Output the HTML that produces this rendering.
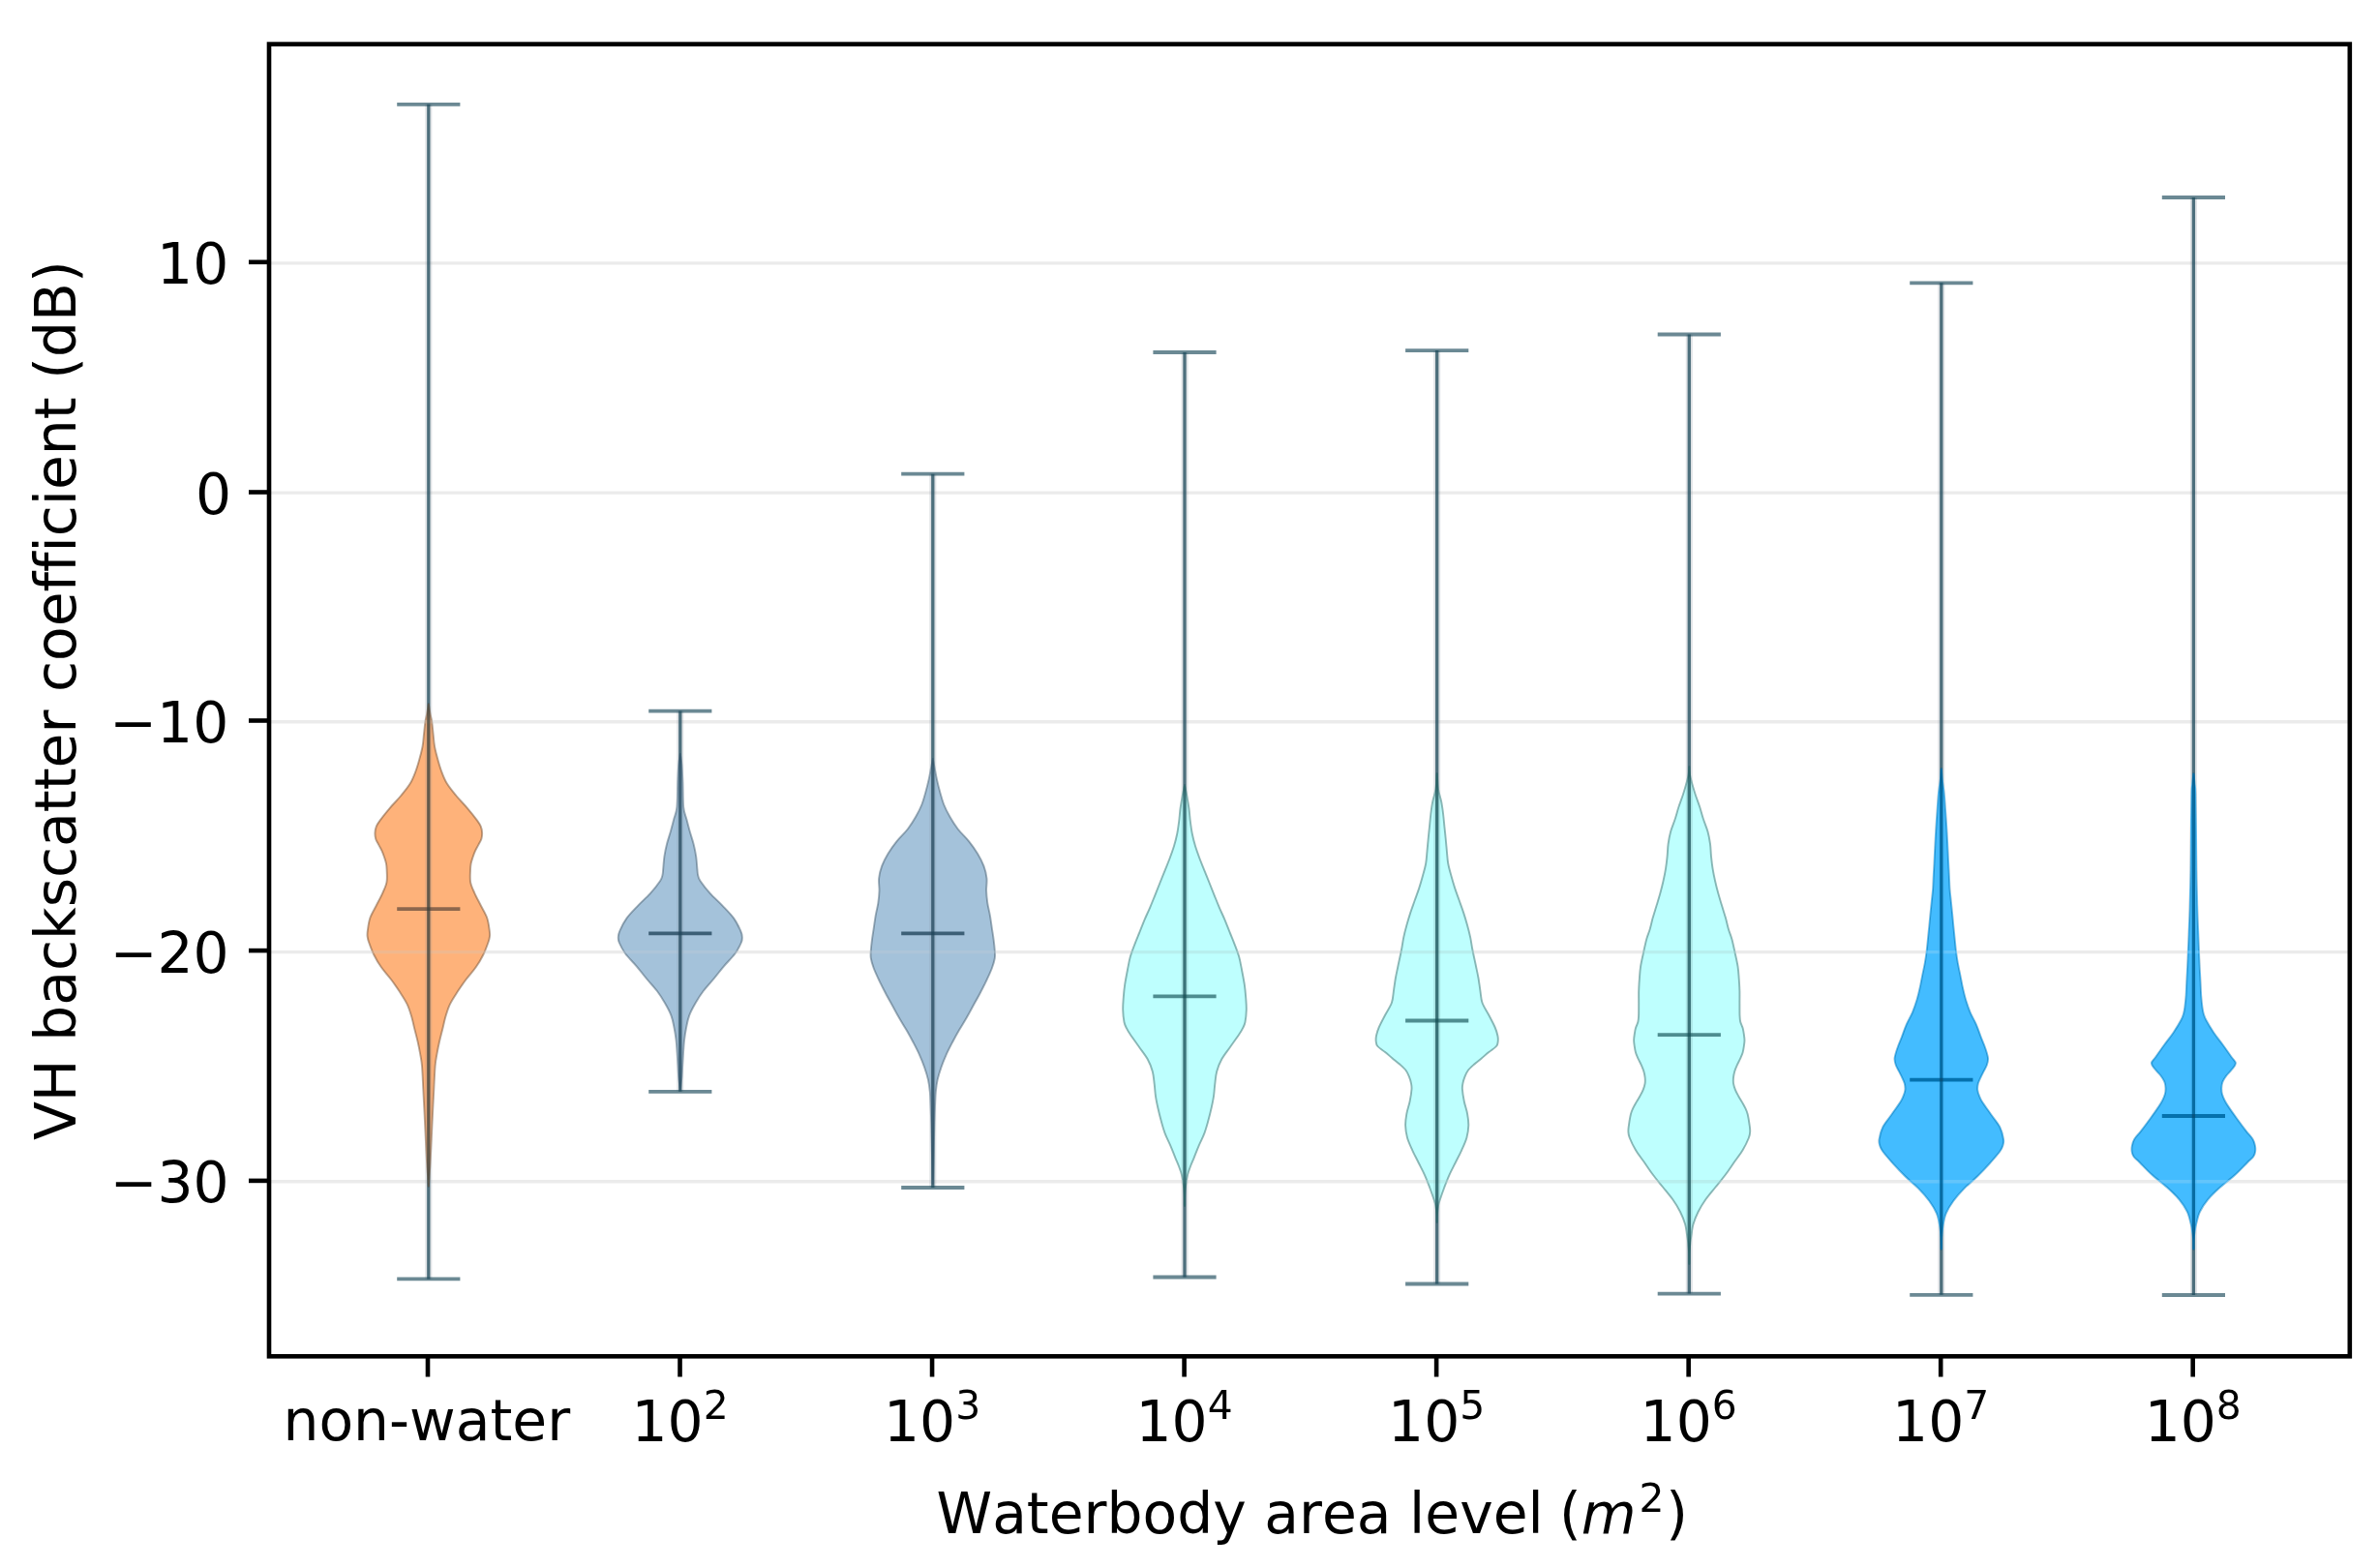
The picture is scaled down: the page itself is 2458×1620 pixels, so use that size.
<!DOCTYPE html>
<html><head><meta charset="utf-8"><title>VH backscatter violin plot</title>
<style>
html,body{margin:0;padding:0;background:#fff;overflow:hidden}
svg{display:block}
text{font-family:"DejaVu Sans","Liberation Sans",sans-serif;fill:#000;font-kerning:none;font-variant-ligatures:none;font-feature-settings:"liga" 0,"kern" 0}
</style></head><body>
<svg width="2458" height="1620" viewBox="0 0 2458 1620">
<rect width="2458" height="1620" fill="#fff"/>

<g stroke="rgba(70,75,75,0.45)" stroke-width="1.9" stroke-linejoin="round">
<path d="M442.80,727.00 L442.95,728.00 C443.19,729.50 443.86,734.08 444.40,737.00 C444.94,739.92 445.67,741.95 446.20,745.50 C446.73,749.05 447.13,754.05 447.60,758.30 C448.07,762.55 448.25,766.75 449.00,771.00 C449.75,775.25 450.93,779.55 452.10,783.80 C453.27,788.05 454.40,792.25 456.00,796.50 C457.60,800.75 459.15,805.05 461.70,809.30 C464.25,813.55 467.78,817.75 471.30,822.00 C474.82,826.25 479.18,830.53 482.80,834.80 C486.42,839.07 490.67,844.42 493.00,847.60 C495.33,850.78 495.95,851.78 496.80,853.90 C497.65,856.02 498.00,858.17 498.10,860.30 C498.20,862.43 498.05,864.57 497.40,866.70 C496.75,868.83 495.28,870.98 494.20,873.10 C493.12,875.22 491.85,877.28 490.90,879.40 C489.95,881.52 489.22,883.67 488.50,885.80 C487.78,887.93 487.02,890.07 486.60,892.20 C486.18,894.33 486.08,895.42 486.00,898.60 C485.92,901.78 485.37,907.27 486.10,911.30 C486.83,915.33 488.62,918.77 490.40,922.80 C492.18,926.83 494.67,931.25 496.80,935.50 C498.93,939.75 501.72,944.05 503.20,948.30 C504.68,952.55 505.23,957.82 505.70,961.00 C506.17,964.18 506.22,965.27 506.00,967.40 C505.78,969.53 505.52,970.62 504.40,973.80 C503.28,976.98 501.42,982.25 499.30,986.50 C497.18,990.75 494.67,995.05 491.70,999.30 C488.73,1003.55 484.68,1007.75 481.50,1012.00 C478.32,1016.25 475.37,1020.53 472.60,1024.80 C469.83,1029.07 466.93,1033.35 464.90,1037.60 C462.87,1041.85 461.67,1046.05 460.40,1050.30 C459.13,1054.55 458.35,1058.85 457.30,1063.10 C456.25,1067.35 455.07,1071.55 454.10,1075.80 C453.13,1080.05 452.25,1084.35 451.50,1088.60 C450.75,1092.85 450.13,1095.15 449.60,1101.30 C449.07,1107.45 448.73,1117.22 448.30,1125.50 C447.87,1133.78 447.42,1142.50 447.00,1151.00 C446.58,1159.50 446.22,1168.00 445.80,1176.50 C445.38,1185.00 444.87,1195.58 444.50,1202.00 C444.13,1208.42 443.86,1211.17 443.60,1215.00 C443.34,1218.83 443.06,1223.33 442.95,1225.00 L442.80,1226.00 L442.65,1225.00 C442.54,1223.33 442.26,1218.83 442.00,1215.00 C441.74,1211.17 441.47,1208.42 441.10,1202.00 C440.73,1195.58 440.22,1185.00 439.80,1176.50 C439.38,1168.00 439.02,1159.50 438.60,1151.00 C438.18,1142.50 437.73,1133.78 437.30,1125.50 C436.87,1117.22 436.53,1107.45 436.00,1101.30 C435.47,1095.15 434.85,1092.85 434.10,1088.60 C433.35,1084.35 432.47,1080.05 431.50,1075.80 C430.53,1071.55 429.35,1067.35 428.30,1063.10 C427.25,1058.85 426.47,1054.55 425.20,1050.30 C423.93,1046.05 422.73,1041.85 420.70,1037.60 C418.67,1033.35 415.77,1029.07 413.00,1024.80 C410.23,1020.53 407.28,1016.25 404.10,1012.00 C400.92,1007.75 396.87,1003.55 393.90,999.30 C390.93,995.05 388.42,990.75 386.30,986.50 C384.18,982.25 382.32,976.98 381.20,973.80 C380.08,970.62 379.82,969.53 379.60,967.40 C379.38,965.27 379.43,964.18 379.90,961.00 C380.37,957.82 380.92,952.55 382.40,948.30 C383.88,944.05 386.67,939.75 388.80,935.50 C390.93,931.25 393.42,926.83 395.20,922.80 C396.98,918.77 398.77,915.33 399.50,911.30 C400.23,907.27 399.68,901.78 399.60,898.60 C399.52,895.42 399.42,894.33 399.00,892.20 C398.58,890.07 397.82,887.93 397.10,885.80 C396.38,883.67 395.65,881.52 394.70,879.40 C393.75,877.28 392.48,875.22 391.40,873.10 C390.32,870.98 388.85,868.83 388.20,866.70 C387.55,864.57 387.40,862.43 387.50,860.30 C387.60,858.17 387.95,856.02 388.80,853.90 C389.65,851.78 390.27,850.78 392.60,847.60 C394.93,844.42 399.18,839.07 402.80,834.80 C406.42,830.53 410.78,826.25 414.30,822.00 C417.82,817.75 421.35,813.55 423.90,809.30 C426.45,805.05 428.00,800.75 429.60,796.50 C431.20,792.25 432.33,788.05 433.50,783.80 C434.67,779.55 435.85,775.25 436.60,771.00 C437.35,766.75 437.53,762.55 438.00,758.30 C438.47,754.05 438.87,749.05 439.40,745.50 C439.93,741.95 440.66,739.92 441.20,737.00 C441.74,734.08 442.41,729.50 442.65,728.00 Z" fill="#FEB27A"/>
<path d="M702.80,779.00 L702.95,780.00 C703.19,781.67 703.99,785.28 704.40,790.00 C704.81,794.72 705.10,801.00 705.40,808.30 C705.70,815.60 705.53,827.43 706.20,833.80 C706.87,840.17 708.30,842.25 709.40,846.50 C710.50,850.75 711.60,855.05 712.80,859.30 C714.00,863.55 715.53,867.75 716.60,872.00 C717.67,876.25 718.57,880.53 719.20,884.80 C719.83,889.07 720.08,894.42 720.40,897.60 C720.72,900.78 720.57,901.78 721.10,903.90 C721.63,906.02 721.48,907.10 723.60,910.30 C725.72,913.50 729.97,918.85 733.80,923.10 C737.63,927.35 742.55,931.55 746.60,935.80 C750.65,940.05 755.02,944.35 758.10,948.60 C761.18,952.85 763.65,958.07 765.10,961.30 C766.55,964.53 766.68,965.88 766.80,968.00 C766.92,970.12 767.05,971.08 765.80,974.00 C764.55,976.92 762.28,981.45 759.30,985.50 C756.32,989.55 751.50,994.05 747.90,998.30 C744.30,1002.55 741.22,1006.75 737.70,1011.00 C734.18,1015.25 730.00,1019.55 726.80,1023.80 C723.60,1028.05 720.95,1032.25 718.50,1036.50 C716.05,1040.75 713.68,1045.05 712.10,1049.30 C710.52,1053.55 709.85,1057.75 709.00,1062.00 C708.15,1066.25 707.50,1070.53 707.00,1074.80 C706.50,1079.07 706.30,1083.35 706.00,1087.60 C705.70,1091.85 705.47,1096.07 705.20,1100.30 C704.93,1104.53 704.77,1108.88 704.40,1113.00 C704.02,1117.12 703.19,1123.00 702.95,1125.00 L702.80,1126.00 L702.65,1125.00 C702.41,1123.00 701.57,1117.12 701.20,1113.00 C700.82,1108.88 700.67,1104.53 700.40,1100.30 C700.13,1096.07 699.90,1091.85 699.60,1087.60 C699.30,1083.35 699.10,1079.07 698.60,1074.80 C698.10,1070.53 697.45,1066.25 696.60,1062.00 C695.75,1057.75 695.08,1053.55 693.50,1049.30 C691.92,1045.05 689.55,1040.75 687.10,1036.50 C684.65,1032.25 682.00,1028.05 678.80,1023.80 C675.60,1019.55 671.42,1015.25 667.90,1011.00 C664.38,1006.75 661.30,1002.55 657.70,998.30 C654.10,994.05 649.28,989.55 646.30,985.50 C643.32,981.45 641.05,976.92 639.80,974.00 C638.55,971.08 638.68,970.12 638.80,968.00 C638.92,965.88 639.05,964.53 640.50,961.30 C641.95,958.07 644.42,952.85 647.50,948.60 C650.58,944.35 654.95,940.05 659.00,935.80 C663.05,931.55 667.97,927.35 671.80,923.10 C675.63,918.85 679.88,913.50 682.00,910.30 C684.12,907.10 683.97,906.02 684.50,903.90 C685.03,901.78 684.88,900.78 685.20,897.60 C685.52,894.42 685.77,889.07 686.40,884.80 C687.03,880.53 687.93,876.25 689.00,872.00 C690.07,867.75 691.60,863.55 692.80,859.30 C694.00,855.05 695.10,850.75 696.20,846.50 C697.30,842.25 698.73,840.17 699.40,833.80 C700.07,827.43 699.90,815.60 700.20,808.30 C700.50,801.00 700.79,794.72 701.20,790.00 C701.61,785.28 702.41,781.67 702.65,780.00 Z" fill="#A4C2DA"/>
<path d="M963.80,784.00 L963.95,785.00 C964.21,786.30 964.83,789.38 965.50,792.80 C966.17,796.22 967.05,801.25 968.00,805.50 C968.95,809.75 970.02,814.05 971.20,818.30 C972.38,822.55 973.40,826.75 975.10,831.00 C976.80,835.25 978.97,839.55 981.40,843.80 C983.83,848.05 986.40,852.25 989.70,856.50 C993.00,860.75 997.80,865.05 1001.20,869.30 C1004.60,873.55 1007.55,877.75 1010.10,882.00 C1012.65,886.25 1014.93,890.53 1016.50,894.80 C1018.07,899.07 1019.07,903.35 1019.50,907.60 C1019.93,911.85 1018.97,916.05 1019.10,920.30 C1019.23,924.55 1019.67,928.85 1020.30,933.10 C1020.93,937.35 1022.15,941.55 1022.90,945.80 C1023.65,950.05 1024.17,954.35 1024.80,958.60 C1025.43,962.85 1026.20,967.40 1026.70,971.30 C1027.20,975.20 1027.62,978.88 1027.80,982.00 C1027.98,985.12 1028.30,986.92 1027.80,990.00 C1027.30,993.08 1026.25,996.62 1024.80,1000.50 C1023.35,1004.38 1021.12,1009.05 1019.10,1013.30 C1017.08,1017.55 1014.93,1021.75 1012.70,1026.00 C1010.47,1030.25 1008.03,1034.55 1005.70,1038.80 C1003.37,1043.05 1001.15,1047.25 998.70,1051.50 C996.25,1055.75 993.45,1060.05 991.00,1064.30 C988.55,1068.55 986.23,1072.75 984.00,1077.00 C981.77,1081.25 979.52,1085.53 977.60,1089.80 C975.68,1094.07 973.98,1098.35 972.50,1102.60 C971.02,1106.85 969.65,1111.05 968.70,1115.30 C967.75,1119.55 967.23,1123.85 966.80,1128.10 C966.37,1132.35 966.33,1135.48 966.10,1140.80 C965.87,1146.12 965.63,1151.80 965.40,1160.00 C965.17,1168.20 964.94,1179.67 964.70,1190.00 C964.46,1200.33 964.07,1216.67 963.95,1222.00 L963.80,1223.00 L963.65,1222.00 C963.52,1216.67 963.14,1200.33 962.90,1190.00 C962.66,1179.67 962.43,1168.20 962.20,1160.00 C961.97,1151.80 961.73,1146.12 961.50,1140.80 C961.27,1135.48 961.23,1132.35 960.80,1128.10 C960.37,1123.85 959.85,1119.55 958.90,1115.30 C957.95,1111.05 956.58,1106.85 955.10,1102.60 C953.62,1098.35 951.92,1094.07 950.00,1089.80 C948.08,1085.53 945.83,1081.25 943.60,1077.00 C941.37,1072.75 939.05,1068.55 936.60,1064.30 C934.15,1060.05 931.35,1055.75 928.90,1051.50 C926.45,1047.25 924.23,1043.05 921.90,1038.80 C919.57,1034.55 917.13,1030.25 914.90,1026.00 C912.67,1021.75 910.52,1017.55 908.50,1013.30 C906.48,1009.05 904.25,1004.38 902.80,1000.50 C901.35,996.62 900.30,993.08 899.80,990.00 C899.30,986.92 899.62,985.12 899.80,982.00 C899.98,978.88 900.40,975.20 900.90,971.30 C901.40,967.40 902.17,962.85 902.80,958.60 C903.43,954.35 903.95,950.05 904.70,945.80 C905.45,941.55 906.67,937.35 907.30,933.10 C907.93,928.85 908.37,924.55 908.50,920.30 C908.63,916.05 907.67,911.85 908.10,907.60 C908.53,903.35 909.53,899.07 911.10,894.80 C912.67,890.53 914.95,886.25 917.50,882.00 C920.05,877.75 923.00,873.55 926.40,869.30 C929.80,865.05 934.60,860.75 937.90,856.50 C941.20,852.25 943.77,848.05 946.20,843.80 C948.63,839.55 950.80,835.25 952.50,831.00 C954.20,826.75 955.22,822.55 956.40,818.30 C957.58,814.05 958.65,809.75 959.60,805.50 C960.55,801.25 961.42,796.22 962.10,792.80 C962.77,789.38 963.39,786.30 963.65,785.00 Z" fill="#A4C2DA"/>
<path d="M1224.00,811.00 L1224.15,812.00 C1224.53,813.80 1225.68,818.88 1226.40,822.80 C1227.12,826.72 1227.93,831.25 1228.50,835.50 C1229.07,839.75 1229.27,844.05 1229.80,848.30 C1230.33,852.55 1230.85,856.75 1231.70,861.00 C1232.55,865.25 1233.63,869.55 1234.90,873.80 C1236.17,878.05 1237.72,882.25 1239.30,886.50 C1240.88,890.75 1242.70,895.05 1244.40,899.30 C1246.10,903.55 1247.80,907.75 1249.50,912.00 C1251.20,916.25 1252.88,920.53 1254.60,924.80 C1256.32,929.07 1257.98,933.35 1259.80,937.60 C1261.62,941.85 1263.70,946.05 1265.50,950.30 C1267.30,954.55 1268.90,958.85 1270.60,963.10 C1272.30,967.35 1274.10,971.55 1275.70,975.80 C1277.30,980.05 1279.00,984.35 1280.20,988.60 C1281.40,992.85 1281.95,996.43 1282.90,1001.30 C1283.85,1006.17 1285.18,1012.93 1285.90,1017.80 C1286.62,1022.67 1286.88,1026.25 1287.20,1030.50 C1287.52,1034.75 1287.92,1039.05 1287.80,1043.30 C1287.68,1047.55 1287.13,1052.82 1286.50,1056.00 C1285.87,1059.18 1285.05,1060.27 1284.00,1062.40 C1282.95,1064.53 1282.33,1065.62 1280.20,1068.80 C1278.07,1071.98 1274.18,1077.25 1271.20,1081.50 C1268.22,1085.75 1264.63,1090.05 1262.30,1094.30 C1259.97,1098.55 1258.37,1102.75 1257.20,1107.00 C1256.03,1111.25 1255.83,1115.53 1255.30,1119.80 C1254.77,1124.07 1254.63,1128.35 1254.00,1132.60 C1253.37,1136.85 1252.45,1141.05 1251.50,1145.30 C1250.55,1149.55 1249.48,1153.85 1248.30,1158.10 C1247.12,1162.35 1246.00,1166.55 1244.40,1170.80 C1242.80,1175.05 1240.50,1179.35 1238.70,1183.60 C1236.90,1187.85 1235.05,1192.73 1233.60,1196.30 C1232.15,1199.87 1231.10,1202.05 1230.00,1205.00 C1228.90,1207.95 1227.80,1210.83 1227.00,1214.00 C1226.20,1217.17 1225.67,1220.50 1225.20,1224.00 C1224.73,1227.50 1224.38,1231.50 1224.20,1235.00 C1224.03,1238.50 1224.16,1243.33 1224.15,1245.00 L1224.00,1246.00 L1223.85,1245.00 C1223.84,1243.33 1223.97,1238.50 1223.80,1235.00 C1223.62,1231.50 1223.27,1227.50 1222.80,1224.00 C1222.33,1220.50 1221.80,1217.17 1221.00,1214.00 C1220.20,1210.83 1219.10,1207.95 1218.00,1205.00 C1216.90,1202.05 1215.85,1199.87 1214.40,1196.30 C1212.95,1192.73 1211.10,1187.85 1209.30,1183.60 C1207.50,1179.35 1205.20,1175.05 1203.60,1170.80 C1202.00,1166.55 1200.88,1162.35 1199.70,1158.10 C1198.52,1153.85 1197.45,1149.55 1196.50,1145.30 C1195.55,1141.05 1194.63,1136.85 1194.00,1132.60 C1193.37,1128.35 1193.23,1124.07 1192.70,1119.80 C1192.17,1115.53 1191.97,1111.25 1190.80,1107.00 C1189.63,1102.75 1188.03,1098.55 1185.70,1094.30 C1183.37,1090.05 1179.78,1085.75 1176.80,1081.50 C1173.82,1077.25 1169.93,1071.98 1167.80,1068.80 C1165.67,1065.62 1165.05,1064.53 1164.00,1062.40 C1162.95,1060.27 1162.13,1059.18 1161.50,1056.00 C1160.87,1052.82 1160.32,1047.55 1160.20,1043.30 C1160.08,1039.05 1160.48,1034.75 1160.80,1030.50 C1161.12,1026.25 1161.38,1022.67 1162.10,1017.80 C1162.82,1012.93 1164.15,1006.17 1165.10,1001.30 C1166.05,996.43 1166.60,992.85 1167.80,988.60 C1169.00,984.35 1170.70,980.05 1172.30,975.80 C1173.90,971.55 1175.70,967.35 1177.40,963.10 C1179.10,958.85 1180.70,954.55 1182.50,950.30 C1184.30,946.05 1186.38,941.85 1188.20,937.60 C1190.02,933.35 1191.68,929.07 1193.40,924.80 C1195.12,920.53 1196.80,916.25 1198.50,912.00 C1200.20,907.75 1201.90,903.55 1203.60,899.30 C1205.30,895.05 1207.12,890.75 1208.70,886.50 C1210.28,882.25 1211.83,878.05 1213.10,873.80 C1214.37,869.55 1215.45,865.25 1216.30,861.00 C1217.15,856.75 1217.67,852.55 1218.20,848.30 C1218.73,844.05 1218.93,839.75 1219.50,835.50 C1220.07,831.25 1220.88,826.72 1221.60,822.80 C1222.32,818.88 1223.47,813.80 1223.85,812.00 Z" fill="#BEFFFE"/>
<path d="M1484.70,799.00 L1484.85,800.00 C1485.04,802.58 1485.28,810.78 1486.00,815.50 C1486.72,820.22 1488.35,824.05 1489.20,828.30 C1490.05,832.55 1490.57,836.75 1491.10,841.00 C1491.63,845.25 1491.97,849.55 1492.40,853.80 C1492.83,858.05 1493.28,862.25 1493.70,866.50 C1494.12,870.75 1494.48,875.05 1494.90,879.30 C1495.32,883.55 1495.45,887.75 1496.20,892.00 C1496.95,896.25 1498.23,900.53 1499.40,904.80 C1500.57,909.07 1501.82,913.35 1503.20,917.60 C1504.58,921.85 1506.20,926.05 1507.70,930.30 C1509.20,934.55 1510.82,938.85 1512.20,943.10 C1513.58,947.35 1514.83,951.55 1516.00,955.80 C1517.17,960.05 1518.30,964.35 1519.20,968.60 C1520.10,972.85 1520.45,976.43 1521.40,981.30 C1522.35,986.17 1523.88,992.93 1524.90,997.80 C1525.92,1002.67 1526.75,1006.25 1527.50,1010.50 C1528.25,1014.75 1528.73,1019.05 1529.40,1023.30 C1530.07,1027.55 1530.02,1031.75 1531.50,1036.00 C1532.98,1040.25 1536.10,1044.55 1538.30,1048.80 C1540.50,1053.05 1543.18,1057.97 1544.70,1061.50 C1546.22,1065.03 1546.90,1067.58 1547.40,1070.00 C1547.90,1072.42 1547.93,1074.17 1547.70,1076.00 C1547.47,1077.83 1547.57,1079.17 1546.00,1081.00 C1544.43,1082.83 1540.85,1084.93 1538.30,1087.00 C1535.75,1089.07 1533.25,1091.27 1530.70,1093.40 C1528.15,1095.53 1525.35,1097.67 1523.00,1099.80 C1520.65,1101.93 1518.20,1104.07 1516.60,1106.20 C1515.00,1108.33 1514.25,1110.48 1513.40,1112.60 C1512.55,1114.72 1511.92,1116.78 1511.50,1118.90 C1511.08,1121.02 1510.68,1122.12 1510.90,1125.30 C1511.12,1128.48 1511.93,1133.75 1512.80,1138.00 C1513.67,1142.25 1515.35,1146.67 1516.10,1150.80 C1516.85,1154.93 1517.42,1158.68 1517.30,1162.80 C1517.18,1166.92 1516.58,1171.25 1515.40,1175.50 C1514.22,1179.75 1512.12,1184.05 1510.20,1188.30 C1508.28,1192.55 1506.02,1196.75 1503.90,1201.00 C1501.78,1205.25 1499.42,1209.55 1497.50,1213.80 C1495.58,1218.05 1494.00,1222.25 1492.40,1226.50 C1490.80,1230.75 1488.97,1236.10 1487.90,1239.30 C1486.83,1242.50 1486.50,1243.08 1486.00,1245.70 C1485.50,1248.32 1485.09,1252.28 1484.90,1255.00 C1484.71,1257.72 1484.86,1260.83 1484.85,1262.00 L1484.70,1263.00 L1484.55,1262.00 C1484.54,1260.83 1484.69,1257.72 1484.50,1255.00 C1484.31,1252.28 1483.90,1248.32 1483.40,1245.70 C1482.90,1243.08 1482.57,1242.50 1481.50,1239.30 C1480.43,1236.10 1478.60,1230.75 1477.00,1226.50 C1475.40,1222.25 1473.82,1218.05 1471.90,1213.80 C1469.98,1209.55 1467.62,1205.25 1465.50,1201.00 C1463.38,1196.75 1461.12,1192.55 1459.20,1188.30 C1457.28,1184.05 1455.18,1179.75 1454.00,1175.50 C1452.82,1171.25 1452.22,1166.92 1452.10,1162.80 C1451.98,1158.68 1452.55,1154.93 1453.30,1150.80 C1454.05,1146.67 1455.73,1142.25 1456.60,1138.00 C1457.47,1133.75 1458.28,1128.48 1458.50,1125.30 C1458.72,1122.12 1458.32,1121.02 1457.90,1118.90 C1457.48,1116.78 1456.85,1114.72 1456.00,1112.60 C1455.15,1110.48 1454.40,1108.33 1452.80,1106.20 C1451.20,1104.07 1448.75,1101.93 1446.40,1099.80 C1444.05,1097.67 1441.25,1095.53 1438.70,1093.40 C1436.15,1091.27 1433.65,1089.07 1431.10,1087.00 C1428.55,1084.93 1424.97,1082.83 1423.40,1081.00 C1421.83,1079.17 1421.93,1077.83 1421.70,1076.00 C1421.47,1074.17 1421.50,1072.42 1422.00,1070.00 C1422.50,1067.58 1423.18,1065.03 1424.70,1061.50 C1426.22,1057.97 1428.90,1053.05 1431.10,1048.80 C1433.30,1044.55 1436.42,1040.25 1437.90,1036.00 C1439.38,1031.75 1439.33,1027.55 1440.00,1023.30 C1440.67,1019.05 1441.15,1014.75 1441.90,1010.50 C1442.65,1006.25 1443.48,1002.67 1444.50,997.80 C1445.52,992.93 1447.05,986.17 1448.00,981.30 C1448.95,976.43 1449.30,972.85 1450.20,968.60 C1451.10,964.35 1452.23,960.05 1453.40,955.80 C1454.57,951.55 1455.82,947.35 1457.20,943.10 C1458.58,938.85 1460.20,934.55 1461.70,930.30 C1463.20,926.05 1464.82,921.85 1466.20,917.60 C1467.58,913.35 1468.83,909.07 1470.00,904.80 C1471.17,900.53 1472.45,896.25 1473.20,892.00 C1473.95,887.75 1474.08,883.55 1474.50,879.30 C1474.92,875.05 1475.28,870.75 1475.70,866.50 C1476.12,862.25 1476.57,858.05 1477.00,853.80 C1477.43,849.55 1477.77,845.25 1478.30,841.00 C1478.83,836.75 1479.35,832.55 1480.20,828.30 C1481.05,824.05 1482.68,820.22 1483.40,815.50 C1484.12,810.78 1484.36,802.58 1484.55,800.00 Z" fill="#BEFFFE"/>
<path d="M1745.30,792.00 L1745.45,793.00 C1745.53,794.17 1745.49,797.45 1745.90,800.00 C1746.31,802.55 1746.93,804.80 1747.90,808.30 C1748.87,811.80 1750.32,816.75 1751.70,821.00 C1753.08,825.25 1754.82,829.55 1756.20,833.80 C1757.58,838.05 1758.62,842.25 1760.00,846.50 C1761.38,850.75 1763.33,855.05 1764.50,859.30 C1765.67,863.55 1766.42,867.75 1767.00,872.00 C1767.58,876.25 1767.57,880.53 1768.00,884.80 C1768.43,889.07 1768.92,893.35 1769.60,897.60 C1770.28,901.85 1771.15,906.05 1772.10,910.30 C1773.05,914.55 1774.13,918.85 1775.30,923.10 C1776.47,927.35 1777.82,931.55 1779.10,935.80 C1780.38,940.05 1781.87,944.57 1783.00,948.60 C1784.13,952.63 1784.85,956.43 1785.90,960.00 C1786.95,963.57 1788.23,966.17 1789.30,970.00 C1790.37,973.83 1791.27,978.28 1792.30,983.00 C1793.33,987.72 1794.77,993.63 1795.50,998.30 C1796.23,1002.97 1796.38,1006.75 1796.70,1011.00 C1797.02,1015.25 1797.28,1019.55 1797.40,1023.80 C1797.52,1028.05 1797.38,1032.25 1797.40,1036.50 C1797.42,1040.75 1797.37,1046.10 1797.50,1049.30 C1797.63,1052.50 1797.68,1053.58 1798.20,1055.70 C1798.72,1057.82 1800.00,1059.88 1800.60,1062.00 C1801.20,1064.12 1801.48,1066.27 1801.80,1068.40 C1802.12,1070.53 1802.50,1072.67 1802.50,1074.80 C1802.50,1076.93 1802.12,1079.07 1801.80,1081.20 C1801.48,1083.33 1801.23,1085.48 1800.60,1087.60 C1799.97,1089.72 1798.97,1091.78 1798.00,1093.90 C1797.03,1096.02 1795.75,1098.17 1794.80,1100.30 C1793.85,1102.43 1792.93,1104.57 1792.30,1106.70 C1791.67,1108.83 1791.22,1110.98 1791.00,1113.10 C1790.78,1115.22 1790.68,1117.28 1791.00,1119.40 C1791.32,1121.52 1792.05,1123.67 1792.90,1125.80 C1793.75,1127.93 1794.93,1130.07 1796.10,1132.20 C1797.27,1134.33 1798.70,1136.48 1799.90,1138.60 C1801.10,1140.72 1802.33,1142.78 1803.30,1144.90 C1804.27,1147.02 1804.97,1148.32 1805.70,1151.30 C1806.43,1154.28 1807.28,1159.83 1807.70,1162.80 C1808.12,1165.77 1808.33,1166.98 1808.20,1169.10 C1808.07,1171.22 1808.17,1172.30 1806.90,1175.50 C1805.63,1178.70 1803.15,1184.05 1800.60,1188.30 C1798.05,1192.55 1794.58,1196.75 1791.60,1201.00 C1788.62,1205.25 1785.88,1209.55 1782.70,1213.80 C1779.52,1218.05 1775.90,1222.25 1772.50,1226.50 C1769.10,1230.75 1765.28,1235.05 1762.30,1239.30 C1759.32,1243.55 1756.73,1247.75 1754.60,1252.00 C1752.47,1256.25 1750.72,1260.53 1749.50,1264.80 C1748.28,1269.07 1747.82,1274.40 1747.30,1277.60 C1746.78,1280.80 1746.70,1281.10 1746.40,1284.00 C1746.10,1286.90 1745.66,1291.50 1745.50,1295.00 C1745.34,1298.50 1745.46,1303.33 1745.45,1305.00 L1745.30,1306.00 L1745.15,1305.00 C1745.14,1303.33 1745.26,1298.50 1745.10,1295.00 C1744.94,1291.50 1744.50,1286.90 1744.20,1284.00 C1743.90,1281.10 1743.82,1280.80 1743.30,1277.60 C1742.78,1274.40 1742.32,1269.07 1741.10,1264.80 C1739.88,1260.53 1738.13,1256.25 1736.00,1252.00 C1733.87,1247.75 1731.28,1243.55 1728.30,1239.30 C1725.32,1235.05 1721.50,1230.75 1718.10,1226.50 C1714.70,1222.25 1711.08,1218.05 1707.90,1213.80 C1704.72,1209.55 1701.98,1205.25 1699.00,1201.00 C1696.02,1196.75 1692.55,1192.55 1690.00,1188.30 C1687.45,1184.05 1684.97,1178.70 1683.70,1175.50 C1682.43,1172.30 1682.53,1171.22 1682.40,1169.10 C1682.27,1166.98 1682.48,1165.77 1682.90,1162.80 C1683.32,1159.83 1684.17,1154.28 1684.90,1151.30 C1685.63,1148.32 1686.33,1147.02 1687.30,1144.90 C1688.27,1142.78 1689.50,1140.72 1690.70,1138.60 C1691.90,1136.48 1693.33,1134.33 1694.50,1132.20 C1695.67,1130.07 1696.85,1127.93 1697.70,1125.80 C1698.55,1123.67 1699.28,1121.52 1699.60,1119.40 C1699.92,1117.28 1699.82,1115.22 1699.60,1113.10 C1699.38,1110.98 1698.93,1108.83 1698.30,1106.70 C1697.67,1104.57 1696.75,1102.43 1695.80,1100.30 C1694.85,1098.17 1693.57,1096.02 1692.60,1093.90 C1691.63,1091.78 1690.63,1089.72 1690.00,1087.60 C1689.37,1085.48 1689.12,1083.33 1688.80,1081.20 C1688.48,1079.07 1688.10,1076.93 1688.10,1074.80 C1688.10,1072.67 1688.48,1070.53 1688.80,1068.40 C1689.12,1066.27 1689.40,1064.12 1690.00,1062.00 C1690.60,1059.88 1691.88,1057.82 1692.40,1055.70 C1692.92,1053.58 1692.97,1052.50 1693.10,1049.30 C1693.23,1046.10 1693.18,1040.75 1693.20,1036.50 C1693.22,1032.25 1693.08,1028.05 1693.20,1023.80 C1693.32,1019.55 1693.58,1015.25 1693.90,1011.00 C1694.22,1006.75 1694.37,1002.97 1695.10,998.30 C1695.83,993.63 1697.27,987.72 1698.30,983.00 C1699.33,978.28 1700.23,973.83 1701.30,970.00 C1702.37,966.17 1703.65,963.57 1704.70,960.00 C1705.75,956.43 1706.47,952.63 1707.60,948.60 C1708.73,944.57 1710.22,940.05 1711.50,935.80 C1712.78,931.55 1714.13,927.35 1715.30,923.10 C1716.47,918.85 1717.55,914.55 1718.50,910.30 C1719.45,906.05 1720.32,901.85 1721.00,897.60 C1721.68,893.35 1722.17,889.07 1722.60,884.80 C1723.03,880.53 1723.02,876.25 1723.60,872.00 C1724.18,867.75 1724.93,863.55 1726.10,859.30 C1727.27,855.05 1729.22,850.75 1730.60,846.50 C1731.98,842.25 1733.02,838.05 1734.40,833.80 C1735.78,829.55 1737.52,825.25 1738.90,821.00 C1740.28,816.75 1741.73,811.80 1742.70,808.30 C1743.67,804.80 1744.29,802.55 1744.70,800.00 C1745.11,797.45 1745.07,794.17 1745.15,793.00 Z" fill="#BEFFFE"/>
<path d="M2005.80,794.00 L2005.95,795.00 C2006.08,796.67 2006.24,800.90 2006.70,805.00 C2007.16,809.10 2008.12,813.88 2008.70,819.60 C2009.28,825.32 2009.73,832.72 2010.20,839.30 C2010.67,845.88 2011.10,852.32 2011.50,859.10 C2011.90,865.88 2012.32,874.38 2012.60,880.00 C2012.88,885.62 2012.98,888.55 2013.20,892.80 C2013.42,897.05 2013.68,901.25 2013.90,905.50 C2014.12,909.75 2014.18,914.05 2014.50,918.30 C2014.82,922.55 2015.37,926.75 2015.80,931.00 C2016.23,935.25 2016.68,939.55 2017.10,943.80 C2017.52,948.05 2017.88,952.25 2018.30,956.50 C2018.72,960.75 2019.17,965.05 2019.60,969.30 C2020.03,973.55 2020.37,977.75 2020.90,982.00 C2021.43,986.25 2022.05,990.53 2022.80,994.80 C2023.55,999.07 2024.55,1003.35 2025.40,1007.60 C2026.25,1011.85 2026.95,1016.05 2027.90,1020.30 C2028.85,1024.55 2029.82,1028.85 2031.10,1033.10 C2032.38,1037.35 2033.80,1041.55 2035.60,1045.80 C2037.40,1050.05 2040.05,1054.35 2041.90,1058.60 C2043.75,1062.85 2045.32,1067.73 2046.70,1071.30 C2048.08,1074.87 2049.18,1077.25 2050.20,1080.00 C2051.22,1082.75 2052.15,1085.45 2052.80,1087.80 C2053.45,1090.15 2054.10,1091.98 2054.10,1094.10 C2054.10,1096.22 2053.55,1098.37 2052.80,1100.50 C2052.05,1102.63 2050.67,1104.77 2049.60,1106.90 C2048.53,1109.03 2047.37,1111.18 2046.40,1113.30 C2045.43,1115.42 2044.33,1117.48 2043.80,1119.60 C2043.27,1121.72 2042.98,1123.87 2043.20,1126.00 C2043.42,1128.13 2044.25,1130.27 2045.10,1132.40 C2045.95,1134.53 2046.28,1135.62 2048.30,1138.80 C2050.32,1141.98 2054.22,1147.25 2057.20,1151.50 C2060.18,1155.75 2064.07,1160.05 2066.20,1164.30 C2068.33,1168.55 2069.47,1173.82 2070.00,1177.00 C2070.53,1180.18 2070.03,1181.27 2069.40,1183.40 C2068.77,1185.53 2068.55,1186.60 2066.20,1189.80 C2063.85,1193.00 2059.13,1198.35 2055.30,1202.60 C2051.47,1206.85 2047.55,1211.05 2043.20,1215.30 C2038.85,1219.55 2033.35,1223.85 2029.20,1228.10 C2025.05,1232.35 2021.38,1236.55 2018.30,1240.80 C2015.22,1245.05 2012.50,1249.35 2010.70,1253.60 C2008.90,1257.85 2008.25,1262.23 2007.50,1266.30 C2006.75,1270.37 2006.46,1274.05 2006.20,1278.00 C2005.94,1281.95 2005.99,1288.00 2005.95,1290.00 L2005.80,1291.00 L2005.65,1290.00 C2005.61,1288.00 2005.66,1281.95 2005.40,1278.00 C2005.14,1274.05 2004.85,1270.37 2004.10,1266.30 C2003.35,1262.23 2002.70,1257.85 2000.90,1253.60 C1999.10,1249.35 1996.38,1245.05 1993.30,1240.80 C1990.22,1236.55 1986.55,1232.35 1982.40,1228.10 C1978.25,1223.85 1972.75,1219.55 1968.40,1215.30 C1964.05,1211.05 1960.13,1206.85 1956.30,1202.60 C1952.47,1198.35 1947.75,1193.00 1945.40,1189.80 C1943.05,1186.60 1942.83,1185.53 1942.20,1183.40 C1941.57,1181.27 1941.07,1180.18 1941.60,1177.00 C1942.13,1173.82 1943.27,1168.55 1945.40,1164.30 C1947.53,1160.05 1951.42,1155.75 1954.40,1151.50 C1957.38,1147.25 1961.28,1141.98 1963.30,1138.80 C1965.32,1135.62 1965.65,1134.53 1966.50,1132.40 C1967.35,1130.27 1968.18,1128.13 1968.40,1126.00 C1968.62,1123.87 1968.33,1121.72 1967.80,1119.60 C1967.27,1117.48 1966.17,1115.42 1965.20,1113.30 C1964.23,1111.18 1963.07,1109.03 1962.00,1106.90 C1960.93,1104.77 1959.55,1102.63 1958.80,1100.50 C1958.05,1098.37 1957.50,1096.22 1957.50,1094.10 C1957.50,1091.98 1958.15,1090.15 1958.80,1087.80 C1959.45,1085.45 1960.38,1082.75 1961.40,1080.00 C1962.42,1077.25 1963.52,1074.87 1964.90,1071.30 C1966.28,1067.73 1967.85,1062.85 1969.70,1058.60 C1971.55,1054.35 1974.20,1050.05 1976.00,1045.80 C1977.80,1041.55 1979.22,1037.35 1980.50,1033.10 C1981.78,1028.85 1982.75,1024.55 1983.70,1020.30 C1984.65,1016.05 1985.35,1011.85 1986.20,1007.60 C1987.05,1003.35 1988.05,999.07 1988.80,994.80 C1989.55,990.53 1990.17,986.25 1990.70,982.00 C1991.23,977.75 1991.57,973.55 1992.00,969.30 C1992.43,965.05 1992.88,960.75 1993.30,956.50 C1993.72,952.25 1994.08,948.05 1994.50,943.80 C1994.92,939.55 1995.37,935.25 1995.80,931.00 C1996.23,926.75 1996.78,922.55 1997.10,918.30 C1997.42,914.05 1997.48,909.75 1997.70,905.50 C1997.92,901.25 1998.18,897.05 1998.40,892.80 C1998.62,888.55 1998.72,885.62 1999.00,880.00 C1999.28,874.38 1999.70,865.88 2000.10,859.10 C2000.50,852.32 2000.93,845.88 2001.40,839.30 C2001.87,832.72 2002.32,825.32 2002.90,819.60 C2003.48,813.88 2004.44,809.10 2004.90,805.00 C2005.36,800.90 2005.52,796.67 2005.65,795.00 Z" fill="#43BCFF"/>
<path d="M2266.40,799.00 L2266.55,800.00 C2266.73,801.67 2267.29,806.73 2267.60,810.00 C2267.91,813.27 2268.17,811.42 2268.40,819.60 C2268.63,827.78 2268.83,845.92 2269.00,859.10 C2269.17,872.28 2269.18,885.52 2269.40,898.70 C2269.62,911.88 2269.98,927.15 2270.30,938.20 C2270.62,949.25 2270.97,956.37 2271.30,965.00 C2271.63,973.63 2272.03,983.70 2272.30,990.00 C2272.57,996.30 2272.68,998.55 2272.90,1002.80 C2273.12,1007.05 2273.38,1011.25 2273.60,1015.50 C2273.82,1019.75 2273.88,1024.05 2274.20,1028.30 C2274.52,1032.55 2275.07,1037.82 2275.50,1041.00 C2275.93,1044.18 2276.17,1045.27 2276.80,1047.40 C2277.43,1049.53 2277.60,1050.62 2279.30,1053.80 C2281.00,1056.98 2284.13,1062.25 2287.00,1066.50 C2289.87,1070.75 2293.42,1075.05 2296.50,1079.30 C2299.58,1083.55 2303.27,1088.82 2305.50,1092.00 C2307.73,1095.18 2309.80,1096.27 2309.90,1098.40 C2310.00,1100.53 2307.68,1102.67 2306.10,1104.80 C2304.52,1106.93 2302.00,1109.07 2300.40,1111.20 C2298.80,1113.33 2297.35,1115.48 2296.50,1117.60 C2295.65,1119.72 2295.40,1121.78 2295.30,1123.90 C2295.20,1126.02 2295.37,1128.17 2295.90,1130.30 C2296.43,1132.43 2297.43,1134.57 2298.50,1136.70 C2299.57,1138.83 2300.18,1139.92 2302.30,1143.10 C2304.42,1146.28 2308.12,1151.55 2311.20,1155.80 C2314.28,1160.05 2318.07,1165.07 2320.80,1168.60 C2323.53,1172.13 2326.07,1174.43 2327.60,1177.00 C2329.13,1179.57 2329.58,1181.83 2330.00,1184.00 C2330.42,1186.17 2330.40,1188.17 2330.10,1190.00 C2329.80,1191.83 2329.53,1193.17 2328.20,1195.00 C2326.87,1196.83 2325.25,1197.87 2322.10,1201.00 C2318.95,1204.13 2313.98,1209.55 2309.30,1213.80 C2304.62,1218.05 2298.68,1222.25 2294.00,1226.50 C2289.32,1230.75 2284.72,1235.05 2281.20,1239.30 C2277.68,1243.55 2274.92,1247.75 2272.90,1252.00 C2270.88,1256.25 2269.95,1261.60 2269.10,1264.80 C2268.25,1268.00 2268.20,1268.67 2267.80,1271.20 C2267.40,1273.73 2266.91,1276.87 2266.70,1280.00 C2266.49,1283.13 2266.58,1288.33 2266.55,1290.00 L2266.40,1291.00 L2266.25,1290.00 C2266.22,1288.33 2266.31,1283.13 2266.10,1280.00 C2265.89,1276.87 2265.40,1273.73 2265.00,1271.20 C2264.60,1268.67 2264.55,1268.00 2263.70,1264.80 C2262.85,1261.60 2261.92,1256.25 2259.90,1252.00 C2257.88,1247.75 2255.12,1243.55 2251.60,1239.30 C2248.08,1235.05 2243.48,1230.75 2238.80,1226.50 C2234.12,1222.25 2228.18,1218.05 2223.50,1213.80 C2218.82,1209.55 2213.85,1204.13 2210.70,1201.00 C2207.55,1197.87 2205.93,1196.83 2204.60,1195.00 C2203.27,1193.17 2203.00,1191.83 2202.70,1190.00 C2202.40,1188.17 2202.38,1186.17 2202.80,1184.00 C2203.22,1181.83 2203.67,1179.57 2205.20,1177.00 C2206.73,1174.43 2209.27,1172.13 2212.00,1168.60 C2214.73,1165.07 2218.52,1160.05 2221.60,1155.80 C2224.68,1151.55 2228.38,1146.28 2230.50,1143.10 C2232.62,1139.92 2233.23,1138.83 2234.30,1136.70 C2235.37,1134.57 2236.37,1132.43 2236.90,1130.30 C2237.43,1128.17 2237.60,1126.02 2237.50,1123.90 C2237.40,1121.78 2237.15,1119.72 2236.30,1117.60 C2235.45,1115.48 2234.00,1113.33 2232.40,1111.20 C2230.80,1109.07 2228.28,1106.93 2226.70,1104.80 C2225.12,1102.67 2222.80,1100.53 2222.90,1098.40 C2223.00,1096.27 2225.07,1095.18 2227.30,1092.00 C2229.53,1088.82 2233.22,1083.55 2236.30,1079.30 C2239.38,1075.05 2242.93,1070.75 2245.80,1066.50 C2248.67,1062.25 2251.80,1056.98 2253.50,1053.80 C2255.20,1050.62 2255.37,1049.53 2256.00,1047.40 C2256.63,1045.27 2256.87,1044.18 2257.30,1041.00 C2257.73,1037.82 2258.28,1032.55 2258.60,1028.30 C2258.92,1024.05 2258.98,1019.75 2259.20,1015.50 C2259.42,1011.25 2259.68,1007.05 2259.90,1002.80 C2260.12,998.55 2260.23,996.30 2260.50,990.00 C2260.77,983.70 2261.17,973.63 2261.50,965.00 C2261.83,956.37 2262.18,949.25 2262.50,938.20 C2262.82,927.15 2263.18,911.88 2263.40,898.70 C2263.62,885.52 2263.63,872.28 2263.80,859.10 C2263.97,845.92 2264.17,827.78 2264.40,819.60 C2264.63,811.42 2264.89,813.27 2265.20,810.00 C2265.51,806.73 2266.07,801.67 2266.25,800.00 Z" fill="#43BCFF"/>
</g>
<g stroke="rgba(200,200,200,0.36)" stroke-width="3.4">
<line x1="278.0" y1="271.9" x2="2427.8" y2="271.9"/>
<line x1="278.0" y1="509.1" x2="2427.8" y2="509.1"/>
<line x1="278.0" y1="745.8" x2="2427.8" y2="745.8"/>
<line x1="278.0" y1="983.6" x2="2427.8" y2="983.6"/>
<line x1="278.0" y1="1220.8" x2="2427.8" y2="1220.8"/>
</g>
<g fill="none">
<line x1="442.8" y1="107.8" x2="442.8" y2="1321.4" stroke="rgba(140,150,160,0.28)" stroke-width="7"/>
<line x1="702.8" y1="734.6" x2="702.8" y2="1127.8" stroke="rgba(140,150,160,0.28)" stroke-width="7"/>
<line x1="963.8" y1="489.7" x2="963.8" y2="1227.0" stroke="rgba(140,150,160,0.28)" stroke-width="7"/>
<line x1="1224.0" y1="364.0" x2="1224.0" y2="1319.5" stroke="rgba(140,150,160,0.28)" stroke-width="7"/>
<line x1="1484.7" y1="362.1" x2="1484.7" y2="1326.5" stroke="rgba(140,150,160,0.28)" stroke-width="7"/>
<line x1="1745.3" y1="345.5" x2="1745.3" y2="1336.6" stroke="rgba(140,150,160,0.28)" stroke-width="7"/>
<line x1="2005.8" y1="292.3" x2="2005.8" y2="1337.8" stroke="rgba(140,150,160,0.28)" stroke-width="7"/>
<line x1="2266.4" y1="204.0" x2="2266.4" y2="1338.0" stroke="rgba(140,150,160,0.28)" stroke-width="7"/>
<line x1="410.2" y1="939.1" x2="475.40000000000003" y2="939.1" stroke="rgba(44,58,75,0.6)" stroke-width="3.8"/>
<line x1="670.1999999999999" y1="964.4" x2="735.4" y2="964.4" stroke="rgba(20,62,84,0.74)" stroke-width="3.8"/>
<line x1="931.1999999999999" y1="964.4" x2="996.4" y2="964.4" stroke="rgba(20,62,84,0.74)" stroke-width="3.8"/>
<line x1="1191.4" y1="1029.3" x2="1256.6" y2="1029.3" stroke="rgba(20,80,95,0.66)" stroke-width="3.8"/>
<line x1="1452.1000000000001" y1="1054.5" x2="1517.3" y2="1054.5" stroke="rgba(20,80,95,0.66)" stroke-width="3.8"/>
<line x1="1712.7" y1="1069.1" x2="1777.8999999999999" y2="1069.1" stroke="rgba(20,80,95,0.66)" stroke-width="3.8"/>
<line x1="1973.2" y1="1115.6" x2="2038.3999999999999" y2="1115.6" stroke="rgba(10,75,115,0.72)" stroke-width="3.8"/>
<line x1="2233.8" y1="1153.0" x2="2299.0" y2="1153.0" stroke="rgba(10,75,115,0.72)" stroke-width="3.8"/>
<line x1="442.8" y1="107.8" x2="442.8" y2="1321.4" stroke="rgba(26,70,88,0.74)" stroke-width="3.3"/>
<line x1="410.2" y1="107.8" x2="475.40000000000003" y2="107.8" stroke="rgba(30,76,92,0.66)" stroke-width="3.8"/>
<line x1="410.2" y1="1321.4" x2="475.40000000000003" y2="1321.4" stroke="rgba(30,76,92,0.66)" stroke-width="3.8"/>
<line x1="702.8" y1="734.6" x2="702.8" y2="1127.8" stroke="rgba(26,70,88,0.74)" stroke-width="3.3"/>
<line x1="670.1999999999999" y1="734.6" x2="735.4" y2="734.6" stroke="rgba(30,76,92,0.66)" stroke-width="3.8"/>
<line x1="670.1999999999999" y1="1127.8" x2="735.4" y2="1127.8" stroke="rgba(30,76,92,0.66)" stroke-width="3.8"/>
<line x1="963.8" y1="489.7" x2="963.8" y2="1227.0" stroke="rgba(26,70,88,0.74)" stroke-width="3.3"/>
<line x1="931.1999999999999" y1="489.7" x2="996.4" y2="489.7" stroke="rgba(30,76,92,0.66)" stroke-width="3.8"/>
<line x1="931.1999999999999" y1="1227.0" x2="996.4" y2="1227.0" stroke="rgba(30,76,92,0.66)" stroke-width="3.8"/>
<line x1="1224.0" y1="364.0" x2="1224.0" y2="1319.5" stroke="rgba(26,70,88,0.74)" stroke-width="3.3"/>
<line x1="1191.4" y1="364.0" x2="1256.6" y2="364.0" stroke="rgba(30,76,92,0.66)" stroke-width="3.8"/>
<line x1="1191.4" y1="1319.5" x2="1256.6" y2="1319.5" stroke="rgba(30,76,92,0.66)" stroke-width="3.8"/>
<line x1="1484.7" y1="362.1" x2="1484.7" y2="1326.5" stroke="rgba(26,70,88,0.74)" stroke-width="3.3"/>
<line x1="1452.1000000000001" y1="362.1" x2="1517.3" y2="362.1" stroke="rgba(30,76,92,0.66)" stroke-width="3.8"/>
<line x1="1452.1000000000001" y1="1326.5" x2="1517.3" y2="1326.5" stroke="rgba(30,76,92,0.66)" stroke-width="3.8"/>
<line x1="1745.3" y1="345.5" x2="1745.3" y2="1336.6" stroke="rgba(26,70,88,0.74)" stroke-width="3.3"/>
<line x1="1712.7" y1="345.5" x2="1777.8999999999999" y2="345.5" stroke="rgba(30,76,92,0.66)" stroke-width="3.8"/>
<line x1="1712.7" y1="1336.6" x2="1777.8999999999999" y2="1336.6" stroke="rgba(30,76,92,0.66)" stroke-width="3.8"/>
<line x1="2005.8" y1="292.3" x2="2005.8" y2="1337.8" stroke="rgba(26,70,88,0.74)" stroke-width="3.3"/>
<line x1="1973.2" y1="292.3" x2="2038.3999999999999" y2="292.3" stroke="rgba(30,76,92,0.66)" stroke-width="3.8"/>
<line x1="1973.2" y1="1337.8" x2="2038.3999999999999" y2="1337.8" stroke="rgba(30,76,92,0.66)" stroke-width="3.8"/>
<line x1="2266.4" y1="204.0" x2="2266.4" y2="1338.0" stroke="rgba(26,70,88,0.74)" stroke-width="3.3"/>
<line x1="2233.8" y1="204.0" x2="2299.0" y2="204.0" stroke="rgba(30,76,92,0.66)" stroke-width="3.8"/>
<line x1="2233.8" y1="1338.0" x2="2299.0" y2="1338.0" stroke="rgba(30,76,92,0.66)" stroke-width="3.8"/>
</g>
<g style="mix-blend-mode:color">
<path d="M442.80,727.00 L442.95,728.00 C443.19,729.50 443.86,734.08 444.40,737.00 C444.94,739.92 445.67,741.95 446.20,745.50 C446.73,749.05 447.13,754.05 447.60,758.30 C448.07,762.55 448.25,766.75 449.00,771.00 C449.75,775.25 450.93,779.55 452.10,783.80 C453.27,788.05 454.40,792.25 456.00,796.50 C457.60,800.75 459.15,805.05 461.70,809.30 C464.25,813.55 467.78,817.75 471.30,822.00 C474.82,826.25 479.18,830.53 482.80,834.80 C486.42,839.07 490.67,844.42 493.00,847.60 C495.33,850.78 495.95,851.78 496.80,853.90 C497.65,856.02 498.00,858.17 498.10,860.30 C498.20,862.43 498.05,864.57 497.40,866.70 C496.75,868.83 495.28,870.98 494.20,873.10 C493.12,875.22 491.85,877.28 490.90,879.40 C489.95,881.52 489.22,883.67 488.50,885.80 C487.78,887.93 487.02,890.07 486.60,892.20 C486.18,894.33 486.08,895.42 486.00,898.60 C485.92,901.78 485.37,907.27 486.10,911.30 C486.83,915.33 488.62,918.77 490.40,922.80 C492.18,926.83 494.67,931.25 496.80,935.50 C498.93,939.75 501.72,944.05 503.20,948.30 C504.68,952.55 505.23,957.82 505.70,961.00 C506.17,964.18 506.22,965.27 506.00,967.40 C505.78,969.53 505.52,970.62 504.40,973.80 C503.28,976.98 501.42,982.25 499.30,986.50 C497.18,990.75 494.67,995.05 491.70,999.30 C488.73,1003.55 484.68,1007.75 481.50,1012.00 C478.32,1016.25 475.37,1020.53 472.60,1024.80 C469.83,1029.07 466.93,1033.35 464.90,1037.60 C462.87,1041.85 461.67,1046.05 460.40,1050.30 C459.13,1054.55 458.35,1058.85 457.30,1063.10 C456.25,1067.35 455.07,1071.55 454.10,1075.80 C453.13,1080.05 452.25,1084.35 451.50,1088.60 C450.75,1092.85 450.13,1095.15 449.60,1101.30 C449.07,1107.45 448.73,1117.22 448.30,1125.50 C447.87,1133.78 447.42,1142.50 447.00,1151.00 C446.58,1159.50 446.22,1168.00 445.80,1176.50 C445.38,1185.00 444.87,1195.58 444.50,1202.00 C444.13,1208.42 443.86,1211.17 443.60,1215.00 C443.34,1218.83 443.06,1223.33 442.95,1225.00 L442.80,1226.00 L442.65,1225.00 C442.54,1223.33 442.26,1218.83 442.00,1215.00 C441.74,1211.17 441.47,1208.42 441.10,1202.00 C440.73,1195.58 440.22,1185.00 439.80,1176.50 C439.38,1168.00 439.02,1159.50 438.60,1151.00 C438.18,1142.50 437.73,1133.78 437.30,1125.50 C436.87,1117.22 436.53,1107.45 436.00,1101.30 C435.47,1095.15 434.85,1092.85 434.10,1088.60 C433.35,1084.35 432.47,1080.05 431.50,1075.80 C430.53,1071.55 429.35,1067.35 428.30,1063.10 C427.25,1058.85 426.47,1054.55 425.20,1050.30 C423.93,1046.05 422.73,1041.85 420.70,1037.60 C418.67,1033.35 415.77,1029.07 413.00,1024.80 C410.23,1020.53 407.28,1016.25 404.10,1012.00 C400.92,1007.75 396.87,1003.55 393.90,999.30 C390.93,995.05 388.42,990.75 386.30,986.50 C384.18,982.25 382.32,976.98 381.20,973.80 C380.08,970.62 379.82,969.53 379.60,967.40 C379.38,965.27 379.43,964.18 379.90,961.00 C380.37,957.82 380.92,952.55 382.40,948.30 C383.88,944.05 386.67,939.75 388.80,935.50 C390.93,931.25 393.42,926.83 395.20,922.80 C396.98,918.77 398.77,915.33 399.50,911.30 C400.23,907.27 399.68,901.78 399.60,898.60 C399.52,895.42 399.42,894.33 399.00,892.20 C398.58,890.07 397.82,887.93 397.10,885.80 C396.38,883.67 395.65,881.52 394.70,879.40 C393.75,877.28 392.48,875.22 391.40,873.10 C390.32,870.98 388.85,868.83 388.20,866.70 C387.55,864.57 387.40,862.43 387.50,860.30 C387.60,858.17 387.95,856.02 388.80,853.90 C389.65,851.78 390.27,850.78 392.60,847.60 C394.93,844.42 399.18,839.07 402.80,834.80 C406.42,830.53 410.78,826.25 414.30,822.00 C417.82,817.75 421.35,813.55 423.90,809.30 C426.45,805.05 428.00,800.75 429.60,796.50 C431.20,792.25 432.33,788.05 433.50,783.80 C434.67,779.55 435.85,775.25 436.60,771.00 C437.35,766.75 437.53,762.55 438.00,758.30 C438.47,754.05 438.87,749.05 439.40,745.50 C439.93,741.95 440.66,739.92 441.20,737.00 C441.74,734.08 442.41,729.50 442.65,728.00 Z" fill="#FEB27A" stroke="#FEB27A" stroke-width="1.9" opacity="0.3"/>
<path d="M702.80,779.00 L702.95,780.00 C703.19,781.67 703.99,785.28 704.40,790.00 C704.81,794.72 705.10,801.00 705.40,808.30 C705.70,815.60 705.53,827.43 706.20,833.80 C706.87,840.17 708.30,842.25 709.40,846.50 C710.50,850.75 711.60,855.05 712.80,859.30 C714.00,863.55 715.53,867.75 716.60,872.00 C717.67,876.25 718.57,880.53 719.20,884.80 C719.83,889.07 720.08,894.42 720.40,897.60 C720.72,900.78 720.57,901.78 721.10,903.90 C721.63,906.02 721.48,907.10 723.60,910.30 C725.72,913.50 729.97,918.85 733.80,923.10 C737.63,927.35 742.55,931.55 746.60,935.80 C750.65,940.05 755.02,944.35 758.10,948.60 C761.18,952.85 763.65,958.07 765.10,961.30 C766.55,964.53 766.68,965.88 766.80,968.00 C766.92,970.12 767.05,971.08 765.80,974.00 C764.55,976.92 762.28,981.45 759.30,985.50 C756.32,989.55 751.50,994.05 747.90,998.30 C744.30,1002.55 741.22,1006.75 737.70,1011.00 C734.18,1015.25 730.00,1019.55 726.80,1023.80 C723.60,1028.05 720.95,1032.25 718.50,1036.50 C716.05,1040.75 713.68,1045.05 712.10,1049.30 C710.52,1053.55 709.85,1057.75 709.00,1062.00 C708.15,1066.25 707.50,1070.53 707.00,1074.80 C706.50,1079.07 706.30,1083.35 706.00,1087.60 C705.70,1091.85 705.47,1096.07 705.20,1100.30 C704.93,1104.53 704.77,1108.88 704.40,1113.00 C704.02,1117.12 703.19,1123.00 702.95,1125.00 L702.80,1126.00 L702.65,1125.00 C702.41,1123.00 701.57,1117.12 701.20,1113.00 C700.82,1108.88 700.67,1104.53 700.40,1100.30 C700.13,1096.07 699.90,1091.85 699.60,1087.60 C699.30,1083.35 699.10,1079.07 698.60,1074.80 C698.10,1070.53 697.45,1066.25 696.60,1062.00 C695.75,1057.75 695.08,1053.55 693.50,1049.30 C691.92,1045.05 689.55,1040.75 687.10,1036.50 C684.65,1032.25 682.00,1028.05 678.80,1023.80 C675.60,1019.55 671.42,1015.25 667.90,1011.00 C664.38,1006.75 661.30,1002.55 657.70,998.30 C654.10,994.05 649.28,989.55 646.30,985.50 C643.32,981.45 641.05,976.92 639.80,974.00 C638.55,971.08 638.68,970.12 638.80,968.00 C638.92,965.88 639.05,964.53 640.50,961.30 C641.95,958.07 644.42,952.85 647.50,948.60 C650.58,944.35 654.95,940.05 659.00,935.80 C663.05,931.55 667.97,927.35 671.80,923.10 C675.63,918.85 679.88,913.50 682.00,910.30 C684.12,907.10 683.97,906.02 684.50,903.90 C685.03,901.78 684.88,900.78 685.20,897.60 C685.52,894.42 685.77,889.07 686.40,884.80 C687.03,880.53 687.93,876.25 689.00,872.00 C690.07,867.75 691.60,863.55 692.80,859.30 C694.00,855.05 695.10,850.75 696.20,846.50 C697.30,842.25 698.73,840.17 699.40,833.80 C700.07,827.43 699.90,815.60 700.20,808.30 C700.50,801.00 700.79,794.72 701.20,790.00 C701.61,785.28 702.41,781.67 702.65,780.00 Z" fill="#A4C2DA" stroke="#A4C2DA" stroke-width="1.9" opacity="0.5"/>
<path d="M963.80,784.00 L963.95,785.00 C964.21,786.30 964.83,789.38 965.50,792.80 C966.17,796.22 967.05,801.25 968.00,805.50 C968.95,809.75 970.02,814.05 971.20,818.30 C972.38,822.55 973.40,826.75 975.10,831.00 C976.80,835.25 978.97,839.55 981.40,843.80 C983.83,848.05 986.40,852.25 989.70,856.50 C993.00,860.75 997.80,865.05 1001.20,869.30 C1004.60,873.55 1007.55,877.75 1010.10,882.00 C1012.65,886.25 1014.93,890.53 1016.50,894.80 C1018.07,899.07 1019.07,903.35 1019.50,907.60 C1019.93,911.85 1018.97,916.05 1019.10,920.30 C1019.23,924.55 1019.67,928.85 1020.30,933.10 C1020.93,937.35 1022.15,941.55 1022.90,945.80 C1023.65,950.05 1024.17,954.35 1024.80,958.60 C1025.43,962.85 1026.20,967.40 1026.70,971.30 C1027.20,975.20 1027.62,978.88 1027.80,982.00 C1027.98,985.12 1028.30,986.92 1027.80,990.00 C1027.30,993.08 1026.25,996.62 1024.80,1000.50 C1023.35,1004.38 1021.12,1009.05 1019.10,1013.30 C1017.08,1017.55 1014.93,1021.75 1012.70,1026.00 C1010.47,1030.25 1008.03,1034.55 1005.70,1038.80 C1003.37,1043.05 1001.15,1047.25 998.70,1051.50 C996.25,1055.75 993.45,1060.05 991.00,1064.30 C988.55,1068.55 986.23,1072.75 984.00,1077.00 C981.77,1081.25 979.52,1085.53 977.60,1089.80 C975.68,1094.07 973.98,1098.35 972.50,1102.60 C971.02,1106.85 969.65,1111.05 968.70,1115.30 C967.75,1119.55 967.23,1123.85 966.80,1128.10 C966.37,1132.35 966.33,1135.48 966.10,1140.80 C965.87,1146.12 965.63,1151.80 965.40,1160.00 C965.17,1168.20 964.94,1179.67 964.70,1190.00 C964.46,1200.33 964.07,1216.67 963.95,1222.00 L963.80,1223.00 L963.65,1222.00 C963.52,1216.67 963.14,1200.33 962.90,1190.00 C962.66,1179.67 962.43,1168.20 962.20,1160.00 C961.97,1151.80 961.73,1146.12 961.50,1140.80 C961.27,1135.48 961.23,1132.35 960.80,1128.10 C960.37,1123.85 959.85,1119.55 958.90,1115.30 C957.95,1111.05 956.58,1106.85 955.10,1102.60 C953.62,1098.35 951.92,1094.07 950.00,1089.80 C948.08,1085.53 945.83,1081.25 943.60,1077.00 C941.37,1072.75 939.05,1068.55 936.60,1064.30 C934.15,1060.05 931.35,1055.75 928.90,1051.50 C926.45,1047.25 924.23,1043.05 921.90,1038.80 C919.57,1034.55 917.13,1030.25 914.90,1026.00 C912.67,1021.75 910.52,1017.55 908.50,1013.30 C906.48,1009.05 904.25,1004.38 902.80,1000.50 C901.35,996.62 900.30,993.08 899.80,990.00 C899.30,986.92 899.62,985.12 899.80,982.00 C899.98,978.88 900.40,975.20 900.90,971.30 C901.40,967.40 902.17,962.85 902.80,958.60 C903.43,954.35 903.95,950.05 904.70,945.80 C905.45,941.55 906.67,937.35 907.30,933.10 C907.93,928.85 908.37,924.55 908.50,920.30 C908.63,916.05 907.67,911.85 908.10,907.60 C908.53,903.35 909.53,899.07 911.10,894.80 C912.67,890.53 914.95,886.25 917.50,882.00 C920.05,877.75 923.00,873.55 926.40,869.30 C929.80,865.05 934.60,860.75 937.90,856.50 C941.20,852.25 943.77,848.05 946.20,843.80 C948.63,839.55 950.80,835.25 952.50,831.00 C954.20,826.75 955.22,822.55 956.40,818.30 C957.58,814.05 958.65,809.75 959.60,805.50 C960.55,801.25 961.42,796.22 962.10,792.80 C962.77,789.38 963.39,786.30 963.65,785.00 Z" fill="#A4C2DA" stroke="#A4C2DA" stroke-width="1.9" opacity="0.5"/>
<path d="M1224.00,811.00 L1224.15,812.00 C1224.53,813.80 1225.68,818.88 1226.40,822.80 C1227.12,826.72 1227.93,831.25 1228.50,835.50 C1229.07,839.75 1229.27,844.05 1229.80,848.30 C1230.33,852.55 1230.85,856.75 1231.70,861.00 C1232.55,865.25 1233.63,869.55 1234.90,873.80 C1236.17,878.05 1237.72,882.25 1239.30,886.50 C1240.88,890.75 1242.70,895.05 1244.40,899.30 C1246.10,903.55 1247.80,907.75 1249.50,912.00 C1251.20,916.25 1252.88,920.53 1254.60,924.80 C1256.32,929.07 1257.98,933.35 1259.80,937.60 C1261.62,941.85 1263.70,946.05 1265.50,950.30 C1267.30,954.55 1268.90,958.85 1270.60,963.10 C1272.30,967.35 1274.10,971.55 1275.70,975.80 C1277.30,980.05 1279.00,984.35 1280.20,988.60 C1281.40,992.85 1281.95,996.43 1282.90,1001.30 C1283.85,1006.17 1285.18,1012.93 1285.90,1017.80 C1286.62,1022.67 1286.88,1026.25 1287.20,1030.50 C1287.52,1034.75 1287.92,1039.05 1287.80,1043.30 C1287.68,1047.55 1287.13,1052.82 1286.50,1056.00 C1285.87,1059.18 1285.05,1060.27 1284.00,1062.40 C1282.95,1064.53 1282.33,1065.62 1280.20,1068.80 C1278.07,1071.98 1274.18,1077.25 1271.20,1081.50 C1268.22,1085.75 1264.63,1090.05 1262.30,1094.30 C1259.97,1098.55 1258.37,1102.75 1257.20,1107.00 C1256.03,1111.25 1255.83,1115.53 1255.30,1119.80 C1254.77,1124.07 1254.63,1128.35 1254.00,1132.60 C1253.37,1136.85 1252.45,1141.05 1251.50,1145.30 C1250.55,1149.55 1249.48,1153.85 1248.30,1158.10 C1247.12,1162.35 1246.00,1166.55 1244.40,1170.80 C1242.80,1175.05 1240.50,1179.35 1238.70,1183.60 C1236.90,1187.85 1235.05,1192.73 1233.60,1196.30 C1232.15,1199.87 1231.10,1202.05 1230.00,1205.00 C1228.90,1207.95 1227.80,1210.83 1227.00,1214.00 C1226.20,1217.17 1225.67,1220.50 1225.20,1224.00 C1224.73,1227.50 1224.38,1231.50 1224.20,1235.00 C1224.03,1238.50 1224.16,1243.33 1224.15,1245.00 L1224.00,1246.00 L1223.85,1245.00 C1223.84,1243.33 1223.97,1238.50 1223.80,1235.00 C1223.62,1231.50 1223.27,1227.50 1222.80,1224.00 C1222.33,1220.50 1221.80,1217.17 1221.00,1214.00 C1220.20,1210.83 1219.10,1207.95 1218.00,1205.00 C1216.90,1202.05 1215.85,1199.87 1214.40,1196.30 C1212.95,1192.73 1211.10,1187.85 1209.30,1183.60 C1207.50,1179.35 1205.20,1175.05 1203.60,1170.80 C1202.00,1166.55 1200.88,1162.35 1199.70,1158.10 C1198.52,1153.85 1197.45,1149.55 1196.50,1145.30 C1195.55,1141.05 1194.63,1136.85 1194.00,1132.60 C1193.37,1128.35 1193.23,1124.07 1192.70,1119.80 C1192.17,1115.53 1191.97,1111.25 1190.80,1107.00 C1189.63,1102.75 1188.03,1098.55 1185.70,1094.30 C1183.37,1090.05 1179.78,1085.75 1176.80,1081.50 C1173.82,1077.25 1169.93,1071.98 1167.80,1068.80 C1165.67,1065.62 1165.05,1064.53 1164.00,1062.40 C1162.95,1060.27 1162.13,1059.18 1161.50,1056.00 C1160.87,1052.82 1160.32,1047.55 1160.20,1043.30 C1160.08,1039.05 1160.48,1034.75 1160.80,1030.50 C1161.12,1026.25 1161.38,1022.67 1162.10,1017.80 C1162.82,1012.93 1164.15,1006.17 1165.10,1001.30 C1166.05,996.43 1166.60,992.85 1167.80,988.60 C1169.00,984.35 1170.70,980.05 1172.30,975.80 C1173.90,971.55 1175.70,967.35 1177.40,963.10 C1179.10,958.85 1180.70,954.55 1182.50,950.30 C1184.30,946.05 1186.38,941.85 1188.20,937.60 C1190.02,933.35 1191.68,929.07 1193.40,924.80 C1195.12,920.53 1196.80,916.25 1198.50,912.00 C1200.20,907.75 1201.90,903.55 1203.60,899.30 C1205.30,895.05 1207.12,890.75 1208.70,886.50 C1210.28,882.25 1211.83,878.05 1213.10,873.80 C1214.37,869.55 1215.45,865.25 1216.30,861.00 C1217.15,856.75 1217.67,852.55 1218.20,848.30 C1218.73,844.05 1218.93,839.75 1219.50,835.50 C1220.07,831.25 1220.88,826.72 1221.60,822.80 C1222.32,818.88 1223.47,813.80 1223.85,812.00 Z" fill="#BEFFFE" stroke="#BEFFFE" stroke-width="1.9" opacity="0.6"/>
<path d="M1484.70,799.00 L1484.85,800.00 C1485.04,802.58 1485.28,810.78 1486.00,815.50 C1486.72,820.22 1488.35,824.05 1489.20,828.30 C1490.05,832.55 1490.57,836.75 1491.10,841.00 C1491.63,845.25 1491.97,849.55 1492.40,853.80 C1492.83,858.05 1493.28,862.25 1493.70,866.50 C1494.12,870.75 1494.48,875.05 1494.90,879.30 C1495.32,883.55 1495.45,887.75 1496.20,892.00 C1496.95,896.25 1498.23,900.53 1499.40,904.80 C1500.57,909.07 1501.82,913.35 1503.20,917.60 C1504.58,921.85 1506.20,926.05 1507.70,930.30 C1509.20,934.55 1510.82,938.85 1512.20,943.10 C1513.58,947.35 1514.83,951.55 1516.00,955.80 C1517.17,960.05 1518.30,964.35 1519.20,968.60 C1520.10,972.85 1520.45,976.43 1521.40,981.30 C1522.35,986.17 1523.88,992.93 1524.90,997.80 C1525.92,1002.67 1526.75,1006.25 1527.50,1010.50 C1528.25,1014.75 1528.73,1019.05 1529.40,1023.30 C1530.07,1027.55 1530.02,1031.75 1531.50,1036.00 C1532.98,1040.25 1536.10,1044.55 1538.30,1048.80 C1540.50,1053.05 1543.18,1057.97 1544.70,1061.50 C1546.22,1065.03 1546.90,1067.58 1547.40,1070.00 C1547.90,1072.42 1547.93,1074.17 1547.70,1076.00 C1547.47,1077.83 1547.57,1079.17 1546.00,1081.00 C1544.43,1082.83 1540.85,1084.93 1538.30,1087.00 C1535.75,1089.07 1533.25,1091.27 1530.70,1093.40 C1528.15,1095.53 1525.35,1097.67 1523.00,1099.80 C1520.65,1101.93 1518.20,1104.07 1516.60,1106.20 C1515.00,1108.33 1514.25,1110.48 1513.40,1112.60 C1512.55,1114.72 1511.92,1116.78 1511.50,1118.90 C1511.08,1121.02 1510.68,1122.12 1510.90,1125.30 C1511.12,1128.48 1511.93,1133.75 1512.80,1138.00 C1513.67,1142.25 1515.35,1146.67 1516.10,1150.80 C1516.85,1154.93 1517.42,1158.68 1517.30,1162.80 C1517.18,1166.92 1516.58,1171.25 1515.40,1175.50 C1514.22,1179.75 1512.12,1184.05 1510.20,1188.30 C1508.28,1192.55 1506.02,1196.75 1503.90,1201.00 C1501.78,1205.25 1499.42,1209.55 1497.50,1213.80 C1495.58,1218.05 1494.00,1222.25 1492.40,1226.50 C1490.80,1230.75 1488.97,1236.10 1487.90,1239.30 C1486.83,1242.50 1486.50,1243.08 1486.00,1245.70 C1485.50,1248.32 1485.09,1252.28 1484.90,1255.00 C1484.71,1257.72 1484.86,1260.83 1484.85,1262.00 L1484.70,1263.00 L1484.55,1262.00 C1484.54,1260.83 1484.69,1257.72 1484.50,1255.00 C1484.31,1252.28 1483.90,1248.32 1483.40,1245.70 C1482.90,1243.08 1482.57,1242.50 1481.50,1239.30 C1480.43,1236.10 1478.60,1230.75 1477.00,1226.50 C1475.40,1222.25 1473.82,1218.05 1471.90,1213.80 C1469.98,1209.55 1467.62,1205.25 1465.50,1201.00 C1463.38,1196.75 1461.12,1192.55 1459.20,1188.30 C1457.28,1184.05 1455.18,1179.75 1454.00,1175.50 C1452.82,1171.25 1452.22,1166.92 1452.10,1162.80 C1451.98,1158.68 1452.55,1154.93 1453.30,1150.80 C1454.05,1146.67 1455.73,1142.25 1456.60,1138.00 C1457.47,1133.75 1458.28,1128.48 1458.50,1125.30 C1458.72,1122.12 1458.32,1121.02 1457.90,1118.90 C1457.48,1116.78 1456.85,1114.72 1456.00,1112.60 C1455.15,1110.48 1454.40,1108.33 1452.80,1106.20 C1451.20,1104.07 1448.75,1101.93 1446.40,1099.80 C1444.05,1097.67 1441.25,1095.53 1438.70,1093.40 C1436.15,1091.27 1433.65,1089.07 1431.10,1087.00 C1428.55,1084.93 1424.97,1082.83 1423.40,1081.00 C1421.83,1079.17 1421.93,1077.83 1421.70,1076.00 C1421.47,1074.17 1421.50,1072.42 1422.00,1070.00 C1422.50,1067.58 1423.18,1065.03 1424.70,1061.50 C1426.22,1057.97 1428.90,1053.05 1431.10,1048.80 C1433.30,1044.55 1436.42,1040.25 1437.90,1036.00 C1439.38,1031.75 1439.33,1027.55 1440.00,1023.30 C1440.67,1019.05 1441.15,1014.75 1441.90,1010.50 C1442.65,1006.25 1443.48,1002.67 1444.50,997.80 C1445.52,992.93 1447.05,986.17 1448.00,981.30 C1448.95,976.43 1449.30,972.85 1450.20,968.60 C1451.10,964.35 1452.23,960.05 1453.40,955.80 C1454.57,951.55 1455.82,947.35 1457.20,943.10 C1458.58,938.85 1460.20,934.55 1461.70,930.30 C1463.20,926.05 1464.82,921.85 1466.20,917.60 C1467.58,913.35 1468.83,909.07 1470.00,904.80 C1471.17,900.53 1472.45,896.25 1473.20,892.00 C1473.95,887.75 1474.08,883.55 1474.50,879.30 C1474.92,875.05 1475.28,870.75 1475.70,866.50 C1476.12,862.25 1476.57,858.05 1477.00,853.80 C1477.43,849.55 1477.77,845.25 1478.30,841.00 C1478.83,836.75 1479.35,832.55 1480.20,828.30 C1481.05,824.05 1482.68,820.22 1483.40,815.50 C1484.12,810.78 1484.36,802.58 1484.55,800.00 Z" fill="#BEFFFE" stroke="#BEFFFE" stroke-width="1.9" opacity="0.6"/>
<path d="M1745.30,792.00 L1745.45,793.00 C1745.53,794.17 1745.49,797.45 1745.90,800.00 C1746.31,802.55 1746.93,804.80 1747.90,808.30 C1748.87,811.80 1750.32,816.75 1751.70,821.00 C1753.08,825.25 1754.82,829.55 1756.20,833.80 C1757.58,838.05 1758.62,842.25 1760.00,846.50 C1761.38,850.75 1763.33,855.05 1764.50,859.30 C1765.67,863.55 1766.42,867.75 1767.00,872.00 C1767.58,876.25 1767.57,880.53 1768.00,884.80 C1768.43,889.07 1768.92,893.35 1769.60,897.60 C1770.28,901.85 1771.15,906.05 1772.10,910.30 C1773.05,914.55 1774.13,918.85 1775.30,923.10 C1776.47,927.35 1777.82,931.55 1779.10,935.80 C1780.38,940.05 1781.87,944.57 1783.00,948.60 C1784.13,952.63 1784.85,956.43 1785.90,960.00 C1786.95,963.57 1788.23,966.17 1789.30,970.00 C1790.37,973.83 1791.27,978.28 1792.30,983.00 C1793.33,987.72 1794.77,993.63 1795.50,998.30 C1796.23,1002.97 1796.38,1006.75 1796.70,1011.00 C1797.02,1015.25 1797.28,1019.55 1797.40,1023.80 C1797.52,1028.05 1797.38,1032.25 1797.40,1036.50 C1797.42,1040.75 1797.37,1046.10 1797.50,1049.30 C1797.63,1052.50 1797.68,1053.58 1798.20,1055.70 C1798.72,1057.82 1800.00,1059.88 1800.60,1062.00 C1801.20,1064.12 1801.48,1066.27 1801.80,1068.40 C1802.12,1070.53 1802.50,1072.67 1802.50,1074.80 C1802.50,1076.93 1802.12,1079.07 1801.80,1081.20 C1801.48,1083.33 1801.23,1085.48 1800.60,1087.60 C1799.97,1089.72 1798.97,1091.78 1798.00,1093.90 C1797.03,1096.02 1795.75,1098.17 1794.80,1100.30 C1793.85,1102.43 1792.93,1104.57 1792.30,1106.70 C1791.67,1108.83 1791.22,1110.98 1791.00,1113.10 C1790.78,1115.22 1790.68,1117.28 1791.00,1119.40 C1791.32,1121.52 1792.05,1123.67 1792.90,1125.80 C1793.75,1127.93 1794.93,1130.07 1796.10,1132.20 C1797.27,1134.33 1798.70,1136.48 1799.90,1138.60 C1801.10,1140.72 1802.33,1142.78 1803.30,1144.90 C1804.27,1147.02 1804.97,1148.32 1805.70,1151.30 C1806.43,1154.28 1807.28,1159.83 1807.70,1162.80 C1808.12,1165.77 1808.33,1166.98 1808.20,1169.10 C1808.07,1171.22 1808.17,1172.30 1806.90,1175.50 C1805.63,1178.70 1803.15,1184.05 1800.60,1188.30 C1798.05,1192.55 1794.58,1196.75 1791.60,1201.00 C1788.62,1205.25 1785.88,1209.55 1782.70,1213.80 C1779.52,1218.05 1775.90,1222.25 1772.50,1226.50 C1769.10,1230.75 1765.28,1235.05 1762.30,1239.30 C1759.32,1243.55 1756.73,1247.75 1754.60,1252.00 C1752.47,1256.25 1750.72,1260.53 1749.50,1264.80 C1748.28,1269.07 1747.82,1274.40 1747.30,1277.60 C1746.78,1280.80 1746.70,1281.10 1746.40,1284.00 C1746.10,1286.90 1745.66,1291.50 1745.50,1295.00 C1745.34,1298.50 1745.46,1303.33 1745.45,1305.00 L1745.30,1306.00 L1745.15,1305.00 C1745.14,1303.33 1745.26,1298.50 1745.10,1295.00 C1744.94,1291.50 1744.50,1286.90 1744.20,1284.00 C1743.90,1281.10 1743.82,1280.80 1743.30,1277.60 C1742.78,1274.40 1742.32,1269.07 1741.10,1264.80 C1739.88,1260.53 1738.13,1256.25 1736.00,1252.00 C1733.87,1247.75 1731.28,1243.55 1728.30,1239.30 C1725.32,1235.05 1721.50,1230.75 1718.10,1226.50 C1714.70,1222.25 1711.08,1218.05 1707.90,1213.80 C1704.72,1209.55 1701.98,1205.25 1699.00,1201.00 C1696.02,1196.75 1692.55,1192.55 1690.00,1188.30 C1687.45,1184.05 1684.97,1178.70 1683.70,1175.50 C1682.43,1172.30 1682.53,1171.22 1682.40,1169.10 C1682.27,1166.98 1682.48,1165.77 1682.90,1162.80 C1683.32,1159.83 1684.17,1154.28 1684.90,1151.30 C1685.63,1148.32 1686.33,1147.02 1687.30,1144.90 C1688.27,1142.78 1689.50,1140.72 1690.70,1138.60 C1691.90,1136.48 1693.33,1134.33 1694.50,1132.20 C1695.67,1130.07 1696.85,1127.93 1697.70,1125.80 C1698.55,1123.67 1699.28,1121.52 1699.60,1119.40 C1699.92,1117.28 1699.82,1115.22 1699.60,1113.10 C1699.38,1110.98 1698.93,1108.83 1698.30,1106.70 C1697.67,1104.57 1696.75,1102.43 1695.80,1100.30 C1694.85,1098.17 1693.57,1096.02 1692.60,1093.90 C1691.63,1091.78 1690.63,1089.72 1690.00,1087.60 C1689.37,1085.48 1689.12,1083.33 1688.80,1081.20 C1688.48,1079.07 1688.10,1076.93 1688.10,1074.80 C1688.10,1072.67 1688.48,1070.53 1688.80,1068.40 C1689.12,1066.27 1689.40,1064.12 1690.00,1062.00 C1690.60,1059.88 1691.88,1057.82 1692.40,1055.70 C1692.92,1053.58 1692.97,1052.50 1693.10,1049.30 C1693.23,1046.10 1693.18,1040.75 1693.20,1036.50 C1693.22,1032.25 1693.08,1028.05 1693.20,1023.80 C1693.32,1019.55 1693.58,1015.25 1693.90,1011.00 C1694.22,1006.75 1694.37,1002.97 1695.10,998.30 C1695.83,993.63 1697.27,987.72 1698.30,983.00 C1699.33,978.28 1700.23,973.83 1701.30,970.00 C1702.37,966.17 1703.65,963.57 1704.70,960.00 C1705.75,956.43 1706.47,952.63 1707.60,948.60 C1708.73,944.57 1710.22,940.05 1711.50,935.80 C1712.78,931.55 1714.13,927.35 1715.30,923.10 C1716.47,918.85 1717.55,914.55 1718.50,910.30 C1719.45,906.05 1720.32,901.85 1721.00,897.60 C1721.68,893.35 1722.17,889.07 1722.60,884.80 C1723.03,880.53 1723.02,876.25 1723.60,872.00 C1724.18,867.75 1724.93,863.55 1726.10,859.30 C1727.27,855.05 1729.22,850.75 1730.60,846.50 C1731.98,842.25 1733.02,838.05 1734.40,833.80 C1735.78,829.55 1737.52,825.25 1738.90,821.00 C1740.28,816.75 1741.73,811.80 1742.70,808.30 C1743.67,804.80 1744.29,802.55 1744.70,800.00 C1745.11,797.45 1745.07,794.17 1745.15,793.00 Z" fill="#BEFFFE" stroke="#BEFFFE" stroke-width="1.9" opacity="0.6"/>
<path d="M2005.80,794.00 L2005.95,795.00 C2006.08,796.67 2006.24,800.90 2006.70,805.00 C2007.16,809.10 2008.12,813.88 2008.70,819.60 C2009.28,825.32 2009.73,832.72 2010.20,839.30 C2010.67,845.88 2011.10,852.32 2011.50,859.10 C2011.90,865.88 2012.32,874.38 2012.60,880.00 C2012.88,885.62 2012.98,888.55 2013.20,892.80 C2013.42,897.05 2013.68,901.25 2013.90,905.50 C2014.12,909.75 2014.18,914.05 2014.50,918.30 C2014.82,922.55 2015.37,926.75 2015.80,931.00 C2016.23,935.25 2016.68,939.55 2017.10,943.80 C2017.52,948.05 2017.88,952.25 2018.30,956.50 C2018.72,960.75 2019.17,965.05 2019.60,969.30 C2020.03,973.55 2020.37,977.75 2020.90,982.00 C2021.43,986.25 2022.05,990.53 2022.80,994.80 C2023.55,999.07 2024.55,1003.35 2025.40,1007.60 C2026.25,1011.85 2026.95,1016.05 2027.90,1020.30 C2028.85,1024.55 2029.82,1028.85 2031.10,1033.10 C2032.38,1037.35 2033.80,1041.55 2035.60,1045.80 C2037.40,1050.05 2040.05,1054.35 2041.90,1058.60 C2043.75,1062.85 2045.32,1067.73 2046.70,1071.30 C2048.08,1074.87 2049.18,1077.25 2050.20,1080.00 C2051.22,1082.75 2052.15,1085.45 2052.80,1087.80 C2053.45,1090.15 2054.10,1091.98 2054.10,1094.10 C2054.10,1096.22 2053.55,1098.37 2052.80,1100.50 C2052.05,1102.63 2050.67,1104.77 2049.60,1106.90 C2048.53,1109.03 2047.37,1111.18 2046.40,1113.30 C2045.43,1115.42 2044.33,1117.48 2043.80,1119.60 C2043.27,1121.72 2042.98,1123.87 2043.20,1126.00 C2043.42,1128.13 2044.25,1130.27 2045.10,1132.40 C2045.95,1134.53 2046.28,1135.62 2048.30,1138.80 C2050.32,1141.98 2054.22,1147.25 2057.20,1151.50 C2060.18,1155.75 2064.07,1160.05 2066.20,1164.30 C2068.33,1168.55 2069.47,1173.82 2070.00,1177.00 C2070.53,1180.18 2070.03,1181.27 2069.40,1183.40 C2068.77,1185.53 2068.55,1186.60 2066.20,1189.80 C2063.85,1193.00 2059.13,1198.35 2055.30,1202.60 C2051.47,1206.85 2047.55,1211.05 2043.20,1215.30 C2038.85,1219.55 2033.35,1223.85 2029.20,1228.10 C2025.05,1232.35 2021.38,1236.55 2018.30,1240.80 C2015.22,1245.05 2012.50,1249.35 2010.70,1253.60 C2008.90,1257.85 2008.25,1262.23 2007.50,1266.30 C2006.75,1270.37 2006.46,1274.05 2006.20,1278.00 C2005.94,1281.95 2005.99,1288.00 2005.95,1290.00 L2005.80,1291.00 L2005.65,1290.00 C2005.61,1288.00 2005.66,1281.95 2005.40,1278.00 C2005.14,1274.05 2004.85,1270.37 2004.10,1266.30 C2003.35,1262.23 2002.70,1257.85 2000.90,1253.60 C1999.10,1249.35 1996.38,1245.05 1993.30,1240.80 C1990.22,1236.55 1986.55,1232.35 1982.40,1228.10 C1978.25,1223.85 1972.75,1219.55 1968.40,1215.30 C1964.05,1211.05 1960.13,1206.85 1956.30,1202.60 C1952.47,1198.35 1947.75,1193.00 1945.40,1189.80 C1943.05,1186.60 1942.83,1185.53 1942.20,1183.40 C1941.57,1181.27 1941.07,1180.18 1941.60,1177.00 C1942.13,1173.82 1943.27,1168.55 1945.40,1164.30 C1947.53,1160.05 1951.42,1155.75 1954.40,1151.50 C1957.38,1147.25 1961.28,1141.98 1963.30,1138.80 C1965.32,1135.62 1965.65,1134.53 1966.50,1132.40 C1967.35,1130.27 1968.18,1128.13 1968.40,1126.00 C1968.62,1123.87 1968.33,1121.72 1967.80,1119.60 C1967.27,1117.48 1966.17,1115.42 1965.20,1113.30 C1964.23,1111.18 1963.07,1109.03 1962.00,1106.90 C1960.93,1104.77 1959.55,1102.63 1958.80,1100.50 C1958.05,1098.37 1957.50,1096.22 1957.50,1094.10 C1957.50,1091.98 1958.15,1090.15 1958.80,1087.80 C1959.45,1085.45 1960.38,1082.75 1961.40,1080.00 C1962.42,1077.25 1963.52,1074.87 1964.90,1071.30 C1966.28,1067.73 1967.85,1062.85 1969.70,1058.60 C1971.55,1054.35 1974.20,1050.05 1976.00,1045.80 C1977.80,1041.55 1979.22,1037.35 1980.50,1033.10 C1981.78,1028.85 1982.75,1024.55 1983.70,1020.30 C1984.65,1016.05 1985.35,1011.85 1986.20,1007.60 C1987.05,1003.35 1988.05,999.07 1988.80,994.80 C1989.55,990.53 1990.17,986.25 1990.70,982.00 C1991.23,977.75 1991.57,973.55 1992.00,969.30 C1992.43,965.05 1992.88,960.75 1993.30,956.50 C1993.72,952.25 1994.08,948.05 1994.50,943.80 C1994.92,939.55 1995.37,935.25 1995.80,931.00 C1996.23,926.75 1996.78,922.55 1997.10,918.30 C1997.42,914.05 1997.48,909.75 1997.70,905.50 C1997.92,901.25 1998.18,897.05 1998.40,892.80 C1998.62,888.55 1998.72,885.62 1999.00,880.00 C1999.28,874.38 1999.70,865.88 2000.10,859.10 C2000.50,852.32 2000.93,845.88 2001.40,839.30 C2001.87,832.72 2002.32,825.32 2002.90,819.60 C2003.48,813.88 2004.44,809.10 2004.90,805.00 C2005.36,800.90 2005.52,796.67 2005.65,795.00 Z" fill="#43BCFF" stroke="#43BCFF" stroke-width="1.9" opacity="0.8"/>
<path d="M2266.40,799.00 L2266.55,800.00 C2266.73,801.67 2267.29,806.73 2267.60,810.00 C2267.91,813.27 2268.17,811.42 2268.40,819.60 C2268.63,827.78 2268.83,845.92 2269.00,859.10 C2269.17,872.28 2269.18,885.52 2269.40,898.70 C2269.62,911.88 2269.98,927.15 2270.30,938.20 C2270.62,949.25 2270.97,956.37 2271.30,965.00 C2271.63,973.63 2272.03,983.70 2272.30,990.00 C2272.57,996.30 2272.68,998.55 2272.90,1002.80 C2273.12,1007.05 2273.38,1011.25 2273.60,1015.50 C2273.82,1019.75 2273.88,1024.05 2274.20,1028.30 C2274.52,1032.55 2275.07,1037.82 2275.50,1041.00 C2275.93,1044.18 2276.17,1045.27 2276.80,1047.40 C2277.43,1049.53 2277.60,1050.62 2279.30,1053.80 C2281.00,1056.98 2284.13,1062.25 2287.00,1066.50 C2289.87,1070.75 2293.42,1075.05 2296.50,1079.30 C2299.58,1083.55 2303.27,1088.82 2305.50,1092.00 C2307.73,1095.18 2309.80,1096.27 2309.90,1098.40 C2310.00,1100.53 2307.68,1102.67 2306.10,1104.80 C2304.52,1106.93 2302.00,1109.07 2300.40,1111.20 C2298.80,1113.33 2297.35,1115.48 2296.50,1117.60 C2295.65,1119.72 2295.40,1121.78 2295.30,1123.90 C2295.20,1126.02 2295.37,1128.17 2295.90,1130.30 C2296.43,1132.43 2297.43,1134.57 2298.50,1136.70 C2299.57,1138.83 2300.18,1139.92 2302.30,1143.10 C2304.42,1146.28 2308.12,1151.55 2311.20,1155.80 C2314.28,1160.05 2318.07,1165.07 2320.80,1168.60 C2323.53,1172.13 2326.07,1174.43 2327.60,1177.00 C2329.13,1179.57 2329.58,1181.83 2330.00,1184.00 C2330.42,1186.17 2330.40,1188.17 2330.10,1190.00 C2329.80,1191.83 2329.53,1193.17 2328.20,1195.00 C2326.87,1196.83 2325.25,1197.87 2322.10,1201.00 C2318.95,1204.13 2313.98,1209.55 2309.30,1213.80 C2304.62,1218.05 2298.68,1222.25 2294.00,1226.50 C2289.32,1230.75 2284.72,1235.05 2281.20,1239.30 C2277.68,1243.55 2274.92,1247.75 2272.90,1252.00 C2270.88,1256.25 2269.95,1261.60 2269.10,1264.80 C2268.25,1268.00 2268.20,1268.67 2267.80,1271.20 C2267.40,1273.73 2266.91,1276.87 2266.70,1280.00 C2266.49,1283.13 2266.58,1288.33 2266.55,1290.00 L2266.40,1291.00 L2266.25,1290.00 C2266.22,1288.33 2266.31,1283.13 2266.10,1280.00 C2265.89,1276.87 2265.40,1273.73 2265.00,1271.20 C2264.60,1268.67 2264.55,1268.00 2263.70,1264.80 C2262.85,1261.60 2261.92,1256.25 2259.90,1252.00 C2257.88,1247.75 2255.12,1243.55 2251.60,1239.30 C2248.08,1235.05 2243.48,1230.75 2238.80,1226.50 C2234.12,1222.25 2228.18,1218.05 2223.50,1213.80 C2218.82,1209.55 2213.85,1204.13 2210.70,1201.00 C2207.55,1197.87 2205.93,1196.83 2204.60,1195.00 C2203.27,1193.17 2203.00,1191.83 2202.70,1190.00 C2202.40,1188.17 2202.38,1186.17 2202.80,1184.00 C2203.22,1181.83 2203.67,1179.57 2205.20,1177.00 C2206.73,1174.43 2209.27,1172.13 2212.00,1168.60 C2214.73,1165.07 2218.52,1160.05 2221.60,1155.80 C2224.68,1151.55 2228.38,1146.28 2230.50,1143.10 C2232.62,1139.92 2233.23,1138.83 2234.30,1136.70 C2235.37,1134.57 2236.37,1132.43 2236.90,1130.30 C2237.43,1128.17 2237.60,1126.02 2237.50,1123.90 C2237.40,1121.78 2237.15,1119.72 2236.30,1117.60 C2235.45,1115.48 2234.00,1113.33 2232.40,1111.20 C2230.80,1109.07 2228.28,1106.93 2226.70,1104.80 C2225.12,1102.67 2222.80,1100.53 2222.90,1098.40 C2223.00,1096.27 2225.07,1095.18 2227.30,1092.00 C2229.53,1088.82 2233.22,1083.55 2236.30,1079.30 C2239.38,1075.05 2242.93,1070.75 2245.80,1066.50 C2248.67,1062.25 2251.80,1056.98 2253.50,1053.80 C2255.20,1050.62 2255.37,1049.53 2256.00,1047.40 C2256.63,1045.27 2256.87,1044.18 2257.30,1041.00 C2257.73,1037.82 2258.28,1032.55 2258.60,1028.30 C2258.92,1024.05 2258.98,1019.75 2259.20,1015.50 C2259.42,1011.25 2259.68,1007.05 2259.90,1002.80 C2260.12,998.55 2260.23,996.30 2260.50,990.00 C2260.77,983.70 2261.17,973.63 2261.50,965.00 C2261.83,956.37 2262.18,949.25 2262.50,938.20 C2262.82,927.15 2263.18,911.88 2263.40,898.70 C2263.62,885.52 2263.63,872.28 2263.80,859.10 C2263.97,845.92 2264.17,827.78 2264.40,819.60 C2264.63,811.42 2264.89,813.27 2265.20,810.00 C2265.51,806.73 2266.07,801.67 2266.25,800.00 Z" fill="#43BCFF" stroke="#43BCFF" stroke-width="1.9" opacity="0.8"/>
</g>
<rect x="278.0" y="45.6" width="2149.8" height="1355.7" fill="none" stroke="#000" stroke-width="4.6" stroke-linejoin="miter"/>
<g stroke="#000" stroke-width="4.6">
<line x1="257.0" y1="270.8" x2="278.0" y2="270.8"/>
<line x1="257.0" y1="508.5" x2="278.0" y2="508.5"/>
<line x1="257.0" y1="744.5" x2="278.0" y2="744.5"/>
<line x1="257.0" y1="982.1" x2="278.0" y2="982.1"/>
<line x1="257.0" y1="1219.9" x2="278.0" y2="1219.9"/>
<line x1="442.00" y1="1401.3" x2="442.00" y2="1422.5"/>
<line x1="702.53" y1="1401.3" x2="702.53" y2="1422.5"/>
<line x1="963.06" y1="1401.3" x2="963.06" y2="1422.5"/>
<line x1="1223.59" y1="1401.3" x2="1223.59" y2="1422.5"/>
<line x1="1484.12" y1="1401.3" x2="1484.12" y2="1422.5"/>
<line x1="1744.65" y1="1401.3" x2="1744.65" y2="1422.5"/>
<line x1="2005.18" y1="1401.3" x2="2005.18" y2="1422.5"/>
<line x1="2265.71" y1="1401.3" x2="2265.71" y2="1422.5"/>
</g>
<g font-size="58.3" text-anchor="end">
<text x="236.26" y="293.2">10</text>
<text x="239.16" y="530.6">0</text>
<text x="236.26" y="766.8">−10</text>
<text x="236.66" y="1004.6">−20</text>
<text x="236.66" y="1242.1">−30</text>
</g>
<g font-size="58.3" text-anchor="middle">
<text x="440.85" y="1488.4">non-water</text>
</g>
<text font-size="58.3" x="652.46" y="1489.2">10<tspan font-size="40.81" dy="-23.2">2</tspan></text>
<text font-size="58.3" x="912.99" y="1489.2">10<tspan font-size="40.81" dy="-23.2">3</tspan></text>
<text font-size="58.3" x="1173.52" y="1489.2">10<tspan font-size="40.81" dy="-23.2">4</tspan></text>
<text font-size="58.3" x="1434.05" y="1489.2">10<tspan font-size="40.81" dy="-23.2">5</tspan></text>
<text font-size="58.3" x="1694.58" y="1489.2">10<tspan font-size="40.81" dy="-23.2">6</tspan></text>
<text font-size="58.3" x="1955.11" y="1489.2">10<tspan font-size="40.81" dy="-23.2">7</tspan></text>
<text font-size="58.3" x="2215.64" y="1489.2">10<tspan font-size="40.81" dy="-23.2">8</tspan></text>
<text font-size="58.3" x="967.50" y="1583.6">Waterbody area level <tspan dx="-2.2">(</tspan><tspan font-style="italic">m</tspan><tspan font-size="40.81" dx="2.8" dy="-22.0">2</tspan><tspan dx="2.0" dy="22.0">)</tspan></text>
<text font-size="58.3" transform="translate(77.9,723.7) rotate(-90)" text-anchor="middle">VH backscatter coefficient (dB)</text>
</svg></body></html>
